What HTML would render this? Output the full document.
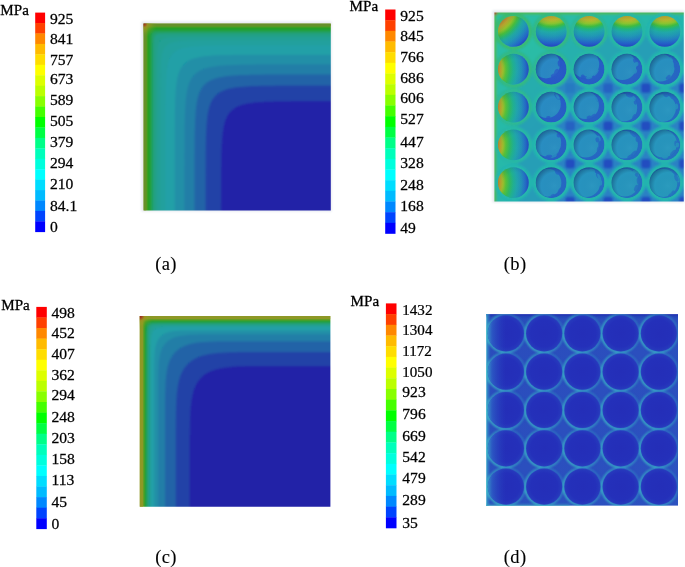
<!DOCTYPE html><html><head><meta charset="utf-8"><title>Stress contours</title>
<style>html,body{margin:0;padding:0;background:#fff;}body{width:685px;height:567px;overflow:hidden;}svg{display:block;font-family:"Liberation Serif","Times New Roman",serif;}text{fill:#000;stroke:#000;stroke-width:0.25px;}</style></head><body>
<svg width="685" height="567" viewBox="0 0 685 567">
<defs>
<filter id="blur1" x="-5%" y="-5%" width="110%" height="110%"><feGaussianBlur stdDeviation="0.85"/></filter>
<filter id="blur2" x="-5%" y="-5%" width="110%" height="110%"><feGaussianBlur stdDeviation="0.85"/></filter>
<clipPath id="clipA"><rect x="143.5" y="23.5" width="187.3" height="187.0"/></clipPath>
<clipPath id="clipC"><rect x="139.7" y="315.9" width="190.7" height="190.8"/></clipPath>
<radialGradient id="cornerA" cx="0.5" cy="0.5" r="0.5"><stop offset="0" stop-color="#a02020"/><stop offset="0.12" stop-color="#a04020"/><stop offset="0.3" stop-color="#a09020" stop-opacity="0.85"/><stop offset="0.6" stop-color="#90a020" stop-opacity="0.4"/><stop offset="1" stop-color="#60a020" stop-opacity="0"/></radialGradient>
<radialGradient id="cornerC" cx="0.5" cy="0.5" r="0.5"><stop offset="0" stop-color="#a02020"/><stop offset="0.15" stop-color="#a04020"/><stop offset="0.35" stop-color="#a09020" stop-opacity="0.85"/><stop offset="0.6" stop-color="#90a020" stop-opacity="0.4"/><stop offset="1" stop-color="#60a020" stop-opacity="0"/></radialGradient>
<clipPath id="cc44"><circle cx="664.86" cy="182.69" r="15.4"/></clipPath>
<clipPath id="cc34"><circle cx="626.98" cy="182.69" r="15.4"/></clipPath>
<clipPath id="cc24"><circle cx="589.10" cy="182.69" r="15.4"/></clipPath>
<clipPath id="cc14"><circle cx="551.22" cy="182.69" r="15.4"/></clipPath>
<clipPath id="cc04"><circle cx="513.34" cy="182.69" r="15.4"/></clipPath>
<clipPath id="cc43"><circle cx="664.86" cy="144.87" r="15.4"/></clipPath>
<clipPath id="cc33"><circle cx="626.98" cy="144.87" r="15.4"/></clipPath>
<clipPath id="cc23"><circle cx="589.10" cy="144.87" r="15.4"/></clipPath>
<clipPath id="cc13"><circle cx="551.22" cy="144.87" r="15.4"/></clipPath>
<clipPath id="cc03"><circle cx="513.34" cy="144.87" r="15.4"/></clipPath>
<clipPath id="cc42"><circle cx="664.86" cy="107.05" r="15.4"/></clipPath>
<clipPath id="cc32"><circle cx="626.98" cy="107.05" r="15.4"/></clipPath>
<clipPath id="cc22"><circle cx="589.10" cy="107.05" r="15.4"/></clipPath>
<clipPath id="cc12"><circle cx="551.22" cy="107.05" r="15.4"/></clipPath>
<clipPath id="cc02"><circle cx="513.34" cy="107.05" r="15.4"/></clipPath>
<clipPath id="cc41"><circle cx="664.86" cy="69.23" r="15.4"/></clipPath>
<clipPath id="cc31"><circle cx="626.98" cy="69.23" r="15.4"/></clipPath>
<clipPath id="cc21"><circle cx="589.10" cy="69.23" r="15.4"/></clipPath>
<clipPath id="cc11"><circle cx="551.22" cy="69.23" r="15.4"/></clipPath>
<clipPath id="cc01"><circle cx="513.34" cy="69.23" r="15.4"/></clipPath>
<clipPath id="cc40"><circle cx="664.86" cy="31.41" r="15.4"/></clipPath>
<clipPath id="cc30"><circle cx="626.98" cy="31.41" r="15.4"/></clipPath>
<clipPath id="cc20"><circle cx="589.10" cy="31.41" r="15.4"/></clipPath>
<clipPath id="cc10"><circle cx="551.22" cy="31.41" r="15.4"/></clipPath>
<clipPath id="cc00"><circle cx="513.34" cy="31.41" r="15.4"/></clipPath>
<clipPath id="clipB"><rect x="494.4" y="12.5" width="189.4" height="189.1"/></clipPath><filter id="blur3" x="-5%" y="-5%" width="110%" height="110%"><feGaussianBlur stdDeviation="1.3"/></filter><linearGradient id="bbg" x1="0" y1="0" x2="1" y2="1"><stop offset="0" stop-color="#2cc0a2"/><stop offset="0.45" stop-color="#26b8aa"/><stop offset="1" stop-color="#24a8b4"/></linearGradient><radialGradient id="btop" cx="0.5" cy="-0.6" r="1.6"><stop offset="0.375" stop-color="#c0a82c"/><stop offset="0.456" stop-color="#bcb82c"/><stop offset="0.531" stop-color="#88c430"/><stop offset="0.588" stop-color="#40bc40"/><stop offset="0.644" stop-color="#20b480"/><stop offset="0.706" stop-color="#20a8a8"/><stop offset="0.781" stop-color="#2098b4"/><stop offset="0.856" stop-color="#2280c0"/><stop offset="0.931" stop-color="#2460c8"/><stop offset="1.000" stop-color="#2444c0"/></radialGradient><radialGradient id="bleft" cx="-0.6" cy="0.5" r="1.6"><stop offset="0.375" stop-color="#c08c2c"/><stop offset="0.425" stop-color="#c0a42c"/><stop offset="0.475" stop-color="#a0bc2c"/><stop offset="0.537" stop-color="#58c038"/><stop offset="0.613" stop-color="#30b860"/><stop offset="0.688" stop-color="#20b090"/><stop offset="0.762" stop-color="#20a4ac"/><stop offset="0.850" stop-color="#2290b8"/><stop offset="0.925" stop-color="#2470c4"/><stop offset="1.000" stop-color="#2448c0"/></radialGradient><radialGradient id="bdiag" cx="-0.3" cy="-0.3" r="1.75"><stop offset="0.360" stop-color="#c08c2c"/><stop offset="0.428" stop-color="#c0a82c"/><stop offset="0.502" stop-color="#90c02c"/><stop offset="0.565" stop-color="#48bc3c"/><stop offset="0.622" stop-color="#28b470"/><stop offset="0.679" stop-color="#20a8a0"/><stop offset="0.748" stop-color="#2098b4"/><stop offset="0.816" stop-color="#2280c0"/><stop offset="0.879" stop-color="#2464c8"/><stop offset="0.930" stop-color="#2448c0"/></radialGradient><radialGradient id="bshade" cx="0.6" cy="0.6" r="0.63"><stop offset="0" stop-color="#60c0d0" stop-opacity="0.08"/><stop offset="0.68" stop-color="#104060" stop-opacity="0"/><stop offset="1" stop-color="#0c2c58" stop-opacity="0.42"/></radialGradient>
<clipPath id="clipD"><rect x="486.8" y="314.2" width="191.2" height="191.6"/></clipPath><radialGradient id="dcirc" cx="0.5" cy="0.5" r="0.5"><stop offset="0" stop-color="#242eb8"/><stop offset="0.75" stop-color="#2430ba"/><stop offset="0.93" stop-color="#2638bc"/><stop offset="1" stop-color="#2844c0"/></radialGradient><linearGradient id="dleft" x1="0" y1="0" x2="1" y2="0"><stop offset="0" stop-color="#38a0c8" stop-opacity="0.85"/><stop offset="0.12" stop-color="#3070c8" stop-opacity="0.6"/><stop offset="0.5" stop-color="#2848c0" stop-opacity="0"/></linearGradient><linearGradient id="dring" x1="0" y1="0.8" x2="1" y2="0.2"><stop offset="0" stop-color="#40d0c8" stop-opacity="1"/><stop offset="0.5" stop-color="#38b8c8" stop-opacity="0.8"/><stop offset="1" stop-color="#3090c8" stop-opacity="0.5"/></linearGradient><linearGradient id="dbg" x1="0" y1="0" x2="1" y2="1"><stop offset="0" stop-color="#2a4cbc"/><stop offset="1" stop-color="#2c52c0"/></linearGradient>
</defs>
<rect width="685" height="567" fill="#fff"/>
<rect x="35.20" y="12.60" width="9.90" height="10.74" fill="#ff0000"/>
<rect x="35.20" y="23.04" width="9.90" height="10.74" fill="#ff4000"/>
<rect x="35.20" y="33.48" width="9.90" height="10.74" fill="#ff8800"/>
<rect x="35.20" y="43.91" width="9.90" height="10.74" fill="#ffbb00"/>
<rect x="35.20" y="54.35" width="9.90" height="10.74" fill="#ffdd00"/>
<rect x="35.20" y="64.79" width="9.90" height="10.74" fill="#ffff00"/>
<rect x="35.20" y="75.23" width="9.90" height="10.74" fill="#ddff00"/>
<rect x="35.20" y="85.67" width="9.90" height="10.74" fill="#bbff00"/>
<rect x="35.20" y="96.10" width="9.90" height="10.74" fill="#88ff00"/>
<rect x="35.20" y="106.54" width="9.90" height="10.74" fill="#44ff00"/>
<rect x="35.20" y="116.98" width="9.90" height="10.74" fill="#00ff00"/>
<rect x="35.20" y="127.42" width="9.90" height="10.74" fill="#00ff44"/>
<rect x="35.20" y="137.86" width="9.90" height="10.74" fill="#00ff88"/>
<rect x="35.20" y="148.30" width="9.90" height="10.74" fill="#00ffbb"/>
<rect x="35.20" y="158.73" width="9.90" height="10.74" fill="#00ffdd"/>
<rect x="35.20" y="169.17" width="9.90" height="10.74" fill="#00ffff"/>
<rect x="35.20" y="179.61" width="9.90" height="10.74" fill="#00ddff"/>
<rect x="35.20" y="190.05" width="9.90" height="10.74" fill="#00bbff"/>
<rect x="35.20" y="200.49" width="9.90" height="10.74" fill="#0088ff"/>
<rect x="35.20" y="210.92" width="9.90" height="10.74" fill="#0044ff"/>
<rect x="35.20" y="221.36" width="9.90" height="10.74" fill="#0000ff"/>
<text transform="translate(50.00,24.17) scale(1.04,1)" font-size="15">925</text>
<text transform="translate(50.00,43.67) scale(1.04,1)" font-size="15">841</text>
<text transform="translate(50.00,64.57) scale(1.04,1)" font-size="15">757</text>
<text transform="translate(50.00,84.37) scale(1.04,1)" font-size="15">673</text>
<text transform="translate(50.00,105.07) scale(1.04,1)" font-size="15">589</text>
<text transform="translate(50.00,125.77) scale(1.04,1)" font-size="15">505</text>
<text transform="translate(50.00,147.47) scale(1.04,1)" font-size="15">379</text>
<text transform="translate(50.00,168.37) scale(1.04,1)" font-size="15">294</text>
<text transform="translate(50.00,189.07) scale(1.04,1)" font-size="15">210</text>
<text transform="translate(50.00,210.67) scale(1.04,1)" font-size="15">84.1</text>
<text transform="translate(50.00,231.97) scale(1.04,1)" font-size="15">0</text>
<text transform="translate(0.30,14.60) scale(1.05,1)" font-size="14.4">MPa</text>
<rect x="385.20" y="9.50" width="10.30" height="10.97" fill="#ff0000"/>
<rect x="385.20" y="20.17" width="10.30" height="10.97" fill="#ff4000"/>
<rect x="385.20" y="30.83" width="10.30" height="10.97" fill="#ff8800"/>
<rect x="385.20" y="41.50" width="10.30" height="10.97" fill="#ffbb00"/>
<rect x="385.20" y="52.17" width="10.30" height="10.97" fill="#ffdd00"/>
<rect x="385.20" y="62.83" width="10.30" height="10.97" fill="#ffff00"/>
<rect x="385.20" y="73.50" width="10.30" height="10.97" fill="#ddff00"/>
<rect x="385.20" y="84.17" width="10.30" height="10.97" fill="#bbff00"/>
<rect x="385.20" y="94.83" width="10.30" height="10.97" fill="#88ff00"/>
<rect x="385.20" y="105.50" width="10.30" height="10.97" fill="#44ff00"/>
<rect x="385.20" y="116.17" width="10.30" height="10.97" fill="#00ff00"/>
<rect x="385.20" y="126.83" width="10.30" height="10.97" fill="#00ff44"/>
<rect x="385.20" y="137.50" width="10.30" height="10.97" fill="#00ff88"/>
<rect x="385.20" y="148.17" width="10.30" height="10.97" fill="#00ffbb"/>
<rect x="385.20" y="158.83" width="10.30" height="10.97" fill="#00ffdd"/>
<rect x="385.20" y="169.50" width="10.30" height="10.97" fill="#00ffff"/>
<rect x="385.20" y="180.17" width="10.30" height="10.97" fill="#00ddff"/>
<rect x="385.20" y="190.83" width="10.30" height="10.97" fill="#00bbff"/>
<rect x="385.20" y="201.50" width="10.30" height="10.97" fill="#0088ff"/>
<rect x="385.20" y="212.17" width="10.30" height="10.97" fill="#0044ff"/>
<rect x="385.20" y="222.83" width="10.30" height="10.97" fill="#0000ff"/>
<text transform="translate(400.30,20.97) scale(1.04,1)" font-size="15">925</text>
<text transform="translate(400.30,41.17) scale(1.04,1)" font-size="15">845</text>
<text transform="translate(400.30,62.17) scale(1.04,1)" font-size="15">766</text>
<text transform="translate(400.30,82.67) scale(1.04,1)" font-size="15">686</text>
<text transform="translate(400.30,103.17) scale(1.04,1)" font-size="15">606</text>
<text transform="translate(400.30,124.37) scale(1.04,1)" font-size="15">527</text>
<text transform="translate(400.30,147.17) scale(1.04,1)" font-size="15">447</text>
<text transform="translate(400.30,168.37) scale(1.04,1)" font-size="15">328</text>
<text transform="translate(400.30,189.57) scale(1.04,1)" font-size="15">248</text>
<text transform="translate(400.30,211.37) scale(1.04,1)" font-size="15">168</text>
<text transform="translate(400.30,233.17) scale(1.04,1)" font-size="15">49</text>
<text transform="translate(349.60,11.40) scale(1.05,1)" font-size="14.4">MPa</text>
<rect x="36.30" y="306.90" width="10.50" height="10.87" fill="#ff0000"/>
<rect x="36.30" y="317.47" width="10.50" height="10.87" fill="#ff4000"/>
<rect x="36.30" y="328.03" width="10.50" height="10.87" fill="#ff8800"/>
<rect x="36.30" y="338.60" width="10.50" height="10.87" fill="#ffbb00"/>
<rect x="36.30" y="349.17" width="10.50" height="10.87" fill="#ffdd00"/>
<rect x="36.30" y="359.73" width="10.50" height="10.87" fill="#ffff00"/>
<rect x="36.30" y="370.30" width="10.50" height="10.87" fill="#ddff00"/>
<rect x="36.30" y="380.87" width="10.50" height="10.87" fill="#bbff00"/>
<rect x="36.30" y="391.43" width="10.50" height="10.87" fill="#88ff00"/>
<rect x="36.30" y="402.00" width="10.50" height="10.87" fill="#44ff00"/>
<rect x="36.30" y="412.57" width="10.50" height="10.87" fill="#00ff00"/>
<rect x="36.30" y="423.13" width="10.50" height="10.87" fill="#00ff44"/>
<rect x="36.30" y="433.70" width="10.50" height="10.87" fill="#00ff88"/>
<rect x="36.30" y="444.27" width="10.50" height="10.87" fill="#00ffbb"/>
<rect x="36.30" y="454.83" width="10.50" height="10.87" fill="#00ffdd"/>
<rect x="36.30" y="465.40" width="10.50" height="10.87" fill="#00ffff"/>
<rect x="36.30" y="475.97" width="10.50" height="10.87" fill="#00ddff"/>
<rect x="36.30" y="486.53" width="10.50" height="10.87" fill="#00bbff"/>
<rect x="36.30" y="497.10" width="10.50" height="10.87" fill="#0088ff"/>
<rect x="36.30" y="507.67" width="10.50" height="10.87" fill="#0044ff"/>
<rect x="36.30" y="518.23" width="10.50" height="10.87" fill="#0000ff"/>
<text transform="translate(51.50,318.27) scale(1.04,1)" font-size="15">498</text>
<text transform="translate(51.50,338.47) scale(1.04,1)" font-size="15">452</text>
<text transform="translate(51.50,358.97) scale(1.04,1)" font-size="15">407</text>
<text transform="translate(51.50,379.67) scale(1.04,1)" font-size="15">362</text>
<text transform="translate(51.50,400.47) scale(1.04,1)" font-size="15">294</text>
<text transform="translate(51.50,421.57) scale(1.04,1)" font-size="15">248</text>
<text transform="translate(51.50,443.27) scale(1.04,1)" font-size="15">203</text>
<text transform="translate(51.50,463.97) scale(1.04,1)" font-size="15">158</text>
<text transform="translate(51.50,484.77) scale(1.04,1)" font-size="15">113</text>
<text transform="translate(51.50,506.97) scale(1.04,1)" font-size="15">45</text>
<text transform="translate(51.50,528.57) scale(1.04,1)" font-size="15">0</text>
<text transform="translate(1.20,309.70) scale(1.05,1)" font-size="14.4">MPa</text>
<rect x="385.90" y="303.40" width="10.60" height="11.00" fill="#ff0000"/>
<rect x="385.90" y="314.10" width="10.60" height="11.00" fill="#ff4000"/>
<rect x="385.90" y="324.79" width="10.60" height="11.00" fill="#ff8800"/>
<rect x="385.90" y="335.49" width="10.60" height="11.00" fill="#ffbb00"/>
<rect x="385.90" y="346.18" width="10.60" height="11.00" fill="#ffdd00"/>
<rect x="385.90" y="356.88" width="10.60" height="11.00" fill="#ffff00"/>
<rect x="385.90" y="367.57" width="10.60" height="11.00" fill="#ddff00"/>
<rect x="385.90" y="378.27" width="10.60" height="11.00" fill="#bbff00"/>
<rect x="385.90" y="388.96" width="10.60" height="11.00" fill="#88ff00"/>
<rect x="385.90" y="399.66" width="10.60" height="11.00" fill="#44ff00"/>
<rect x="385.90" y="410.35" width="10.60" height="11.00" fill="#00ff00"/>
<rect x="385.90" y="421.05" width="10.60" height="11.00" fill="#00ff44"/>
<rect x="385.90" y="431.74" width="10.60" height="11.00" fill="#00ff88"/>
<rect x="385.90" y="442.44" width="10.60" height="11.00" fill="#00ffbb"/>
<rect x="385.90" y="453.13" width="10.60" height="11.00" fill="#00ffdd"/>
<rect x="385.90" y="463.83" width="10.60" height="11.00" fill="#00ffff"/>
<rect x="385.90" y="474.52" width="10.60" height="11.00" fill="#00ddff"/>
<rect x="385.90" y="485.22" width="10.60" height="11.00" fill="#00bbff"/>
<rect x="385.90" y="495.91" width="10.60" height="11.00" fill="#0088ff"/>
<rect x="385.90" y="506.61" width="10.60" height="11.00" fill="#0044ff"/>
<rect x="385.90" y="517.30" width="10.60" height="11.00" fill="#0000ff"/>
<text transform="translate(402.30,314.77) scale(1.005,1)" font-size="15">1432</text>
<text transform="translate(402.30,335.17) scale(1.005,1)" font-size="15">1304</text>
<text transform="translate(402.30,355.97) scale(1.005,1)" font-size="15">1172</text>
<text transform="translate(402.30,376.77) scale(1.005,1)" font-size="15">1050</text>
<text transform="translate(402.30,397.47) scale(1.04,1)" font-size="15">923</text>
<text transform="translate(402.30,419.07) scale(1.04,1)" font-size="15">796</text>
<text transform="translate(402.30,440.87) scale(1.04,1)" font-size="15">669</text>
<text transform="translate(402.30,462.27) scale(1.04,1)" font-size="15">542</text>
<text transform="translate(402.30,483.27) scale(1.04,1)" font-size="15">479</text>
<text transform="translate(402.30,505.07) scale(1.04,1)" font-size="15">289</text>
<text transform="translate(402.30,527.57) scale(1.04,1)" font-size="15">35</text>
<text transform="translate(350.60,305.90) scale(1.05,1)" font-size="14.4">MPa</text>
<rect x="141.3" y="21.5" width="190.3" height="190.0" fill="#e6e9ef" filter="url(#blur1)"/>
<g clip-path="url(#clipA)"><g filter="url(#blur1)">
<rect x="139.5" y="19.5" width="195.3" height="195.0" fill="#7c9426"/>
<path d="M143.5,23.5h191.3v191.0h-191.3z" fill="#7c9426"/>
<path d="M334.80,26.10 L159.92,26.10 L159.57,26.10 L159.22,26.10 L158.88,26.10 L158.53,26.10 L158.19,26.10 L157.84,26.10 L157.50,26.10 L157.15,26.10 L156.81,26.10 L156.46,26.10 L156.12,26.10 L155.77,26.10 L155.43,26.10 L155.08,26.10 L154.73,26.10 L154.39,26.10 L154.04,26.10 L153.70,26.10 L153.35,26.10 L153.01,26.10 L152.66,26.10 L152.32,26.10 L151.97,26.10 L151.63,26.10 L151.28,26.10 L150.94,26.10 L150.59,26.10 L150.24,26.10 L149.90,26.10 L149.55,26.10 L149.21,26.10 L148.87,26.10 L148.52,26.10 L148.18,26.11 L147.84,26.12 L147.51,26.13 L147.20,26.16 L146.90,26.21 L146.65,26.30 L146.45,26.45 L146.30,26.65 L146.21,26.90 L146.16,27.20 L146.13,27.51 L146.12,27.84 L146.11,28.18 L146.10,28.52 L146.10,28.87 L146.10,29.21 L146.10,29.55 L146.10,29.90 L146.10,30.24 L146.10,30.59 L146.10,30.94 L146.10,31.28 L146.10,31.63 L146.10,31.97 L146.10,32.32 L146.10,32.66 L146.10,33.01 L146.10,33.35 L146.10,33.70 L146.10,34.04 L146.10,34.39 L146.10,34.73 L146.10,35.08 L146.10,35.43 L146.10,35.77 L146.10,36.12 L146.10,36.46 L146.10,36.81 L146.10,37.15 L146.10,37.50 L146.10,37.84 L146.10,38.19 L146.10,38.53 L146.10,38.88 L146.10,39.22 L146.10,39.57 L146.10,39.92 L146.10,214.50 L334.8,214.5z" fill="#44a020"/>
<path d="M334.80,26.90 L169.00,26.90 L168.45,26.90 L167.90,26.90 L167.35,26.90 L166.79,26.90 L166.24,26.90 L165.69,26.90 L165.14,26.90 L164.58,26.90 L164.03,26.90 L163.48,26.90 L162.93,26.90 L162.37,26.90 L161.82,26.90 L161.27,26.90 L160.72,26.90 L160.16,26.90 L159.61,26.90 L159.06,26.90 L158.51,26.90 L157.95,26.90 L157.40,26.90 L156.85,26.90 L156.29,26.90 L155.74,26.90 L155.19,26.90 L154.64,26.90 L154.08,26.90 L153.53,26.90 L152.98,26.90 L152.43,26.90 L151.88,26.90 L151.32,26.90 L150.77,26.91 L150.23,26.91 L149.69,26.92 L149.16,26.95 L148.65,26.99 L148.18,27.08 L147.78,27.23 L147.45,27.45 L147.23,27.78 L147.08,28.18 L146.99,28.65 L146.95,29.16 L146.92,29.69 L146.91,30.23 L146.91,30.77 L146.90,31.32 L146.90,31.88 L146.90,32.43 L146.90,32.98 L146.90,33.53 L146.90,34.08 L146.90,34.64 L146.90,35.19 L146.90,35.74 L146.90,36.29 L146.90,36.85 L146.90,37.40 L146.90,37.95 L146.90,38.51 L146.90,39.06 L146.90,39.61 L146.90,40.16 L146.90,40.72 L146.90,41.27 L146.90,41.82 L146.90,42.37 L146.90,42.93 L146.90,43.48 L146.90,44.03 L146.90,44.58 L146.90,45.14 L146.90,45.69 L146.90,46.24 L146.90,46.79 L146.90,47.35 L146.90,47.90 L146.90,48.45 L146.90,49.00 L146.90,214.50 L334.8,214.5z" fill="#20a020"/>
<path d="M334.80,30.00 L183.16,30.00 L182.33,30.00 L181.50,30.00 L180.67,30.00 L179.84,30.00 L179.01,30.00 L178.18,30.00 L177.35,30.00 L176.53,30.00 L175.70,30.00 L174.87,30.00 L174.04,30.00 L173.21,30.00 L172.38,30.00 L171.55,30.00 L170.72,30.00 L169.89,30.00 L169.07,30.00 L168.24,30.00 L167.41,30.00 L166.58,30.00 L165.75,30.00 L164.92,30.00 L164.09,30.00 L163.26,30.00 L162.43,30.00 L161.61,30.00 L160.78,30.00 L159.95,30.00 L159.12,30.00 L158.29,30.00 L157.46,30.00 L156.64,30.00 L155.81,30.01 L154.99,30.02 L154.18,30.04 L153.39,30.07 L152.63,30.14 L151.93,30.27 L151.32,30.49 L150.83,30.83 L150.49,31.32 L150.27,31.93 L150.14,32.63 L150.07,33.39 L150.04,34.18 L150.02,34.99 L150.01,35.81 L150.00,36.64 L150.00,37.46 L150.00,38.29 L150.00,39.12 L150.00,39.95 L150.00,40.78 L150.00,41.61 L150.00,42.43 L150.00,43.26 L150.00,44.09 L150.00,44.92 L150.00,45.75 L150.00,46.58 L150.00,47.41 L150.00,48.24 L150.00,49.07 L150.00,49.89 L150.00,50.72 L150.00,51.55 L150.00,52.38 L150.00,53.21 L150.00,54.04 L150.00,54.87 L150.00,55.70 L150.00,56.53 L150.00,57.35 L150.00,58.18 L150.00,59.01 L150.00,59.84 L150.00,60.67 L150.00,61.50 L150.00,62.33 L150.00,63.16 L150.00,214.50 L334.8,214.5z" fill="#20a044"/>
<path d="M334.80,31.80 L201.54,31.80 L200.29,31.80 L199.05,31.80 L197.81,31.80 L196.56,31.80 L195.32,31.80 L194.08,31.80 L192.83,31.80 L191.59,31.80 L190.35,31.80 L189.10,31.80 L187.86,31.80 L186.62,31.80 L185.37,31.80 L184.13,31.80 L182.88,31.80 L181.64,31.80 L180.40,31.80 L179.15,31.80 L177.91,31.80 L176.67,31.80 L175.42,31.80 L174.18,31.80 L172.94,31.80 L171.69,31.80 L170.45,31.80 L169.21,31.80 L167.96,31.80 L166.72,31.80 L165.48,31.80 L164.24,31.80 L162.99,31.80 L161.75,31.81 L160.52,31.81 L159.29,31.83 L158.07,31.86 L156.88,31.91 L155.74,32.01 L154.69,32.20 L153.77,32.53 L153.05,33.05 L152.53,33.77 L152.20,34.69 L152.01,35.74 L151.91,36.88 L151.86,38.07 L151.83,39.29 L151.81,40.52 L151.81,41.75 L151.80,42.99 L151.80,44.24 L151.80,45.48 L151.80,46.72 L151.80,47.96 L151.80,49.21 L151.80,50.45 L151.80,51.69 L151.80,52.94 L151.80,54.18 L151.80,55.42 L151.80,56.67 L151.80,57.91 L151.80,59.15 L151.80,60.40 L151.80,61.64 L151.80,62.88 L151.80,64.13 L151.80,65.37 L151.80,66.62 L151.80,67.86 L151.80,69.10 L151.80,70.35 L151.80,71.59 L151.80,72.83 L151.80,74.08 L151.80,75.32 L151.80,76.56 L151.80,77.81 L151.80,79.05 L151.80,80.29 L151.80,81.54 L151.80,214.50 L334.8,214.5z" fill="#20a06c"/>
<path d="M334.80,33.80 L222.88,33.80 L221.15,33.80 L219.42,33.80 L217.70,33.80 L215.97,33.80 L214.24,33.80 L212.52,33.80 L210.79,33.80 L209.06,33.80 L207.34,33.80 L205.61,33.80 L203.88,33.80 L202.15,33.80 L200.43,33.80 L198.70,33.80 L196.97,33.80 L195.25,33.80 L193.52,33.80 L191.79,33.80 L190.07,33.80 L188.34,33.80 L186.61,33.80 L184.88,33.80 L183.16,33.80 L181.43,33.80 L179.70,33.80 L177.98,33.80 L176.25,33.80 L174.52,33.80 L172.80,33.80 L171.07,33.80 L169.35,33.80 L167.63,33.81 L165.91,33.82 L164.20,33.84 L162.51,33.88 L160.86,33.95 L159.28,34.10 L157.81,34.36 L156.54,34.82 L155.53,35.53 L154.82,36.54 L154.36,37.81 L154.10,39.28 L153.95,40.86 L153.88,42.51 L153.84,44.20 L153.82,45.91 L153.81,47.63 L153.80,49.35 L153.80,51.07 L153.80,52.80 L153.80,54.52 L153.80,56.25 L153.80,57.98 L153.80,59.70 L153.80,61.43 L153.80,63.16 L153.80,64.88 L153.80,66.61 L153.80,68.34 L153.80,70.07 L153.80,71.79 L153.80,73.52 L153.80,75.25 L153.80,76.97 L153.80,78.70 L153.80,80.43 L153.80,82.15 L153.80,83.88 L153.80,85.61 L153.80,87.34 L153.80,89.06 L153.80,90.79 L153.80,92.52 L153.80,94.24 L153.80,95.97 L153.80,97.70 L153.80,99.42 L153.80,101.15 L153.80,102.88 L153.80,214.50 L334.8,214.5z" fill="#20a088"/>
<path d="M334.80,37.00 L295.16,37.00 L291.70,37.00 L288.25,37.00 L284.79,37.00 L281.34,37.00 L277.89,37.00 L274.43,37.00 L270.98,37.00 L267.52,37.00 L264.07,37.00 L260.62,37.00 L257.16,37.00 L253.71,37.00 L250.25,37.00 L246.80,37.00 L243.35,37.00 L239.89,37.00 L236.44,37.00 L232.99,37.00 L229.53,37.00 L226.08,37.00 L222.62,37.00 L219.17,37.00 L215.72,37.00 L212.26,37.00 L208.81,37.00 L205.35,37.00 L201.90,37.00 L198.45,37.00 L195.00,37.00 L191.54,37.00 L188.09,37.01 L184.65,37.02 L181.22,37.04 L177.80,37.08 L174.43,37.16 L171.12,37.31 L167.95,37.59 L165.03,38.12 L162.49,39.03 L160.47,40.47 L159.03,42.49 L158.12,45.03 L157.59,47.95 L157.31,51.12 L157.16,54.43 L157.08,57.80 L157.04,61.22 L157.02,64.65 L157.01,68.09 L157.00,71.54 L157.00,75.00 L157.00,78.45 L157.00,81.90 L157.00,85.35 L157.00,88.81 L157.00,92.26 L157.00,95.72 L157.00,99.17 L157.00,102.62 L157.00,106.08 L157.00,109.53 L157.00,112.99 L157.00,116.44 L157.00,119.89 L157.00,123.35 L157.00,126.80 L157.00,130.25 L157.00,133.71 L157.00,137.16 L157.00,140.62 L157.00,144.07 L157.00,147.52 L157.00,150.98 L157.00,154.43 L157.00,157.89 L157.00,161.34 L157.00,164.79 L157.00,168.25 L157.00,171.70 L157.00,175.15 L157.00,214.50 L334.8,214.5z" fill="#20a094"/>
<path d="M334.80,40.50 L334.80,40.50 L330.45,40.50 L326.09,40.50 L321.74,40.50 L317.39,40.50 L313.03,40.50 L308.68,40.50 L304.32,40.50 L299.97,40.50 L295.62,40.50 L291.26,40.50 L286.91,40.50 L282.56,40.50 L278.20,40.50 L273.85,40.50 L269.49,40.50 L265.14,40.50 L260.79,40.50 L256.43,40.50 L252.08,40.50 L247.73,40.50 L243.37,40.50 L239.02,40.50 L234.66,40.50 L230.31,40.50 L225.96,40.50 L221.61,40.50 L217.26,40.51 L212.91,40.51 L208.56,40.52 L204.22,40.53 L199.89,40.56 L195.58,40.60 L191.30,40.67 L187.07,40.79 L182.92,41.00 L178.91,41.34 L175.11,41.90 L171.64,42.78 L168.61,44.11 L166.12,45.97 L164.22,48.42 L162.86,51.42 L161.95,54.86 L161.37,58.64 L161.02,62.64 L160.81,66.78 L160.68,71.00 L160.60,75.28 L160.56,79.59 L160.54,83.92 L160.52,88.26 L160.51,92.61 L160.51,96.96 L160.50,101.31 L160.50,105.66 L160.50,110.01 L160.50,114.36 L160.50,118.72 L160.50,123.07 L160.50,127.43 L160.50,131.78 L160.50,136.13 L160.50,140.49 L160.50,144.84 L160.50,149.19 L160.50,153.55 L160.50,157.90 L160.50,162.26 L160.50,166.61 L160.50,170.96 L160.50,175.32 L160.50,179.67 L160.50,184.02 L160.50,188.38 L160.50,192.73 L160.50,197.08 L160.50,201.44 L160.50,205.79 L160.50,210.15 L160.50,214.50 L160.50,214.50 L334.8,214.5z" fill="#20a09e"/>
<path d="M334.80,45.50 L334.80,45.50 L330.57,45.50 L326.34,45.50 L322.11,45.50 L317.89,45.50 L313.66,45.50 L309.43,45.50 L305.20,45.50 L300.97,45.50 L296.74,45.50 L292.51,45.50 L288.28,45.50 L284.06,45.50 L279.83,45.50 L275.60,45.50 L271.37,45.50 L267.14,45.50 L262.91,45.50 L258.68,45.50 L254.46,45.50 L250.23,45.50 L246.00,45.51 L241.78,45.51 L237.55,45.52 L233.33,45.52 L229.12,45.53 L224.90,45.55 L220.70,45.57 L216.50,45.61 L212.32,45.66 L208.17,45.73 L204.04,45.84 L199.97,45.99 L195.96,46.21 L192.05,46.53 L188.28,46.98 L184.68,47.61 L181.32,48.48 L178.25,49.64 L175.53,51.15 L173.20,53.05 L171.27,55.35 L169.74,58.04 L168.55,61.09 L167.67,64.43 L167.02,68.01 L166.56,71.78 L166.23,75.68 L166.00,79.68 L165.85,83.75 L165.74,87.87 L165.66,92.03 L165.61,96.21 L165.58,100.40 L165.55,104.60 L165.53,108.82 L165.52,113.03 L165.52,117.25 L165.51,121.48 L165.51,125.70 L165.51,129.93 L165.50,134.16 L165.50,138.38 L165.50,142.61 L165.50,146.84 L165.50,151.07 L165.50,155.30 L165.50,159.53 L165.50,163.76 L165.50,167.98 L165.50,172.21 L165.50,176.44 L165.50,180.67 L165.50,184.90 L165.50,189.13 L165.50,193.36 L165.50,197.59 L165.50,201.81 L165.50,206.04 L165.50,210.27 L165.50,214.50 L165.50,214.50 L334.8,214.5z" fill="#20a0a7"/>
<path d="M334.80,54.70 L334.80,54.70 L330.80,54.70 L326.80,54.70 L322.80,54.70 L318.81,54.70 L314.81,54.70 L310.81,54.70 L306.81,54.70 L302.81,54.70 L298.81,54.70 L294.81,54.70 L290.82,54.70 L286.82,54.70 L282.82,54.70 L278.82,54.71 L274.83,54.71 L270.83,54.71 L266.84,54.71 L262.84,54.72 L258.85,54.73 L254.86,54.74 L250.87,54.75 L246.89,54.76 L242.92,54.79 L238.95,54.82 L234.99,54.86 L231.04,54.91 L227.11,54.98 L223.21,55.08 L219.34,55.20 L215.51,55.37 L211.74,55.60 L208.03,55.89 L204.42,56.28 L200.93,56.79 L197.58,57.44 L194.41,58.27 L191.45,59.31 L188.74,60.59 L186.29,62.14 L184.13,63.98 L182.27,66.12 L180.70,68.54 L179.39,71.24 L178.34,74.18 L177.49,77.34 L176.83,80.67 L176.32,84.16 L175.92,87.76 L175.62,91.46 L175.39,95.23 L175.22,99.05 L175.08,102.92 L174.99,106.82 L174.91,110.75 L174.86,114.69 L174.82,118.65 L174.79,122.62 L174.77,126.59 L174.75,130.58 L174.74,134.56 L174.73,138.55 L174.72,142.54 L174.72,146.54 L174.71,150.53 L174.71,154.53 L174.71,158.52 L174.70,162.52 L174.70,166.52 L174.70,170.52 L174.70,174.51 L174.70,178.51 L174.70,182.51 L174.70,186.51 L174.70,190.51 L174.70,194.51 L174.70,198.51 L174.70,202.50 L174.70,206.50 L174.70,210.50 L174.70,214.50 L174.70,214.50 L334.8,214.5z" fill="#208fa7"/>
<path d="M334.80,64.50 L334.80,64.50 L331.05,64.50 L327.29,64.50 L323.54,64.50 L319.79,64.50 L316.03,64.50 L312.28,64.50 L308.53,64.50 L304.77,64.50 L301.02,64.50 L297.27,64.51 L293.52,64.51 L289.76,64.51 L286.01,64.51 L282.26,64.52 L278.52,64.52 L274.77,64.53 L271.02,64.54 L267.28,64.55 L263.54,64.56 L259.81,64.58 L256.08,64.60 L252.35,64.64 L248.64,64.67 L244.94,64.73 L241.25,64.79 L237.58,64.88 L233.94,64.99 L230.32,65.13 L226.75,65.31 L223.23,65.54 L219.77,65.83 L216.38,66.20 L213.10,66.67 L209.93,67.26 L206.90,67.98 L204.03,68.87 L201.35,69.94 L198.88,71.22 L196.63,72.73 L194.63,74.48 L192.86,76.46 L191.33,78.69 L190.03,81.15 L188.95,83.81 L188.04,86.66 L187.31,89.68 L186.71,92.84 L186.24,96.12 L185.86,99.49 L185.56,102.95 L185.33,106.47 L185.14,110.04 L185.00,113.65 L184.89,117.29 L184.80,120.95 L184.73,124.64 L184.68,128.34 L184.64,132.06 L184.61,135.78 L184.58,139.51 L184.56,143.24 L184.55,146.98 L184.54,150.72 L184.53,154.47 L184.52,158.22 L184.52,161.96 L184.51,165.71 L184.51,169.47 L184.51,173.22 L184.51,176.97 L184.50,180.72 L184.50,184.47 L184.50,188.23 L184.50,191.98 L184.50,195.73 L184.50,199.49 L184.50,203.24 L184.50,206.99 L184.50,210.75 L184.50,214.50 L184.50,214.50 L334.8,214.5z" fill="#207ea7"/>
<path d="M334.80,74.50 L334.80,74.50 L331.30,74.50 L327.79,74.50 L324.29,74.50 L320.79,74.50 L317.28,74.50 L313.78,74.50 L310.28,74.50 L306.78,74.51 L303.27,74.51 L299.77,74.51 L296.27,74.51 L292.77,74.52 L289.27,74.52 L285.77,74.53 L282.28,74.53 L278.78,74.54 L275.29,74.56 L271.80,74.57 L268.32,74.59 L264.84,74.61 L261.37,74.64 L257.90,74.68 L254.45,74.73 L251.01,74.80 L247.58,74.88 L244.18,74.98 L240.81,75.11 L237.46,75.27 L234.16,75.47 L230.91,75.73 L227.73,76.05 L224.62,76.44 L221.60,76.93 L218.70,77.53 L215.92,78.26 L213.30,79.13 L210.84,80.18 L208.57,81.41 L206.49,82.84 L204.63,84.48 L202.97,86.32 L201.52,88.38 L200.28,90.64 L199.22,93.08 L198.32,95.69 L197.58,98.46 L196.98,101.35 L196.48,104.36 L196.08,107.46 L195.75,110.64 L195.49,113.88 L195.28,117.18 L195.12,120.52 L194.99,123.89 L194.89,127.29 L194.80,130.71 L194.74,134.15 L194.69,137.61 L194.65,141.07 L194.62,144.54 L194.59,148.02 L194.57,151.50 L194.56,154.99 L194.54,158.48 L194.53,161.98 L194.53,165.47 L194.52,168.97 L194.52,172.47 L194.51,175.97 L194.51,179.47 L194.51,182.97 L194.51,186.48 L194.51,189.98 L194.50,193.48 L194.50,196.98 L194.50,200.49 L194.50,203.99 L194.50,207.49 L194.50,211.00 L194.50,214.50 L194.50,214.50 L334.8,214.5z" fill="#2064a7"/>
<path d="M334.80,85.50 L334.80,85.50 L331.57,85.50 L328.34,85.50 L325.12,85.50 L321.89,85.50 L318.66,85.51 L315.43,85.51 L312.21,85.51 L308.98,85.51 L305.75,85.51 L302.53,85.52 L299.30,85.52 L296.08,85.53 L292.86,85.54 L289.64,85.54 L286.42,85.55 L283.21,85.57 L280.00,85.59 L276.79,85.61 L273.59,85.63 L270.39,85.67 L267.20,85.71 L264.03,85.76 L260.86,85.82 L257.71,85.90 L254.58,86.00 L251.47,86.12 L248.40,86.27 L245.35,86.46 L242.35,86.69 L239.41,86.97 L236.52,87.32 L233.71,87.74 L230.99,88.24 L228.38,88.85 L225.87,89.58 L223.51,90.44 L221.29,91.45 L219.23,92.62 L217.34,93.96 L215.63,95.48 L214.09,97.17 L212.74,99.04 L211.55,101.09 L210.53,103.29 L209.66,105.65 L208.92,108.14 L208.30,110.75 L207.78,113.46 L207.35,116.26 L207.00,119.14 L206.71,122.08 L206.48,125.07 L206.29,128.11 L206.13,131.19 L206.01,134.29 L205.91,137.42 L205.83,140.57 L205.76,143.73 L205.71,146.91 L205.67,150.09 L205.64,153.29 L205.61,156.49 L205.59,159.70 L205.57,162.91 L205.56,166.12 L205.54,169.34 L205.54,172.56 L205.53,175.78 L205.52,179.01 L205.52,182.23 L205.51,185.45 L205.51,188.68 L205.51,191.91 L205.51,195.13 L205.51,198.36 L205.50,201.59 L205.50,204.82 L205.50,208.04 L205.50,211.27 L205.50,214.50 L205.50,214.50 L334.8,214.5z" fill="#2042a7"/>
<path d="M334.80,101.01 L334.80,101.01 L331.96,101.01 L329.12,101.01 L326.28,101.01 L323.44,101.01 L320.60,101.02 L317.77,101.02 L314.93,101.02 L312.09,101.03 L309.26,101.03 L306.42,101.04 L303.59,101.05 L300.76,101.06 L297.93,101.07 L295.11,101.09 L292.28,101.11 L289.47,101.13 L286.65,101.16 L283.85,101.19 L281.05,101.23 L278.25,101.28 L275.47,101.34 L272.71,101.42 L269.95,101.50 L267.22,101.61 L264.51,101.74 L261.82,101.90 L259.17,102.08 L256.55,102.31 L253.98,102.57 L251.45,102.89 L248.99,103.27 L246.60,103.72 L244.29,104.25 L242.06,104.86 L239.94,105.58 L237.92,106.41 L236.03,107.35 L234.26,108.43 L232.62,109.63 L231.13,110.98 L229.77,112.46 L228.55,114.08 L227.46,115.83 L226.50,117.72 L225.66,119.72 L224.94,121.83 L224.31,124.05 L223.77,126.35 L223.32,128.74 L222.93,131.19 L222.61,133.71 L222.33,136.28 L222.10,138.89 L221.91,141.54 L221.76,144.22 L221.62,146.93 L221.51,149.66 L221.42,152.41 L221.35,155.18 L221.29,157.96 L221.24,160.75 L221.20,163.55 L221.16,166.36 L221.13,169.17 L221.11,171.99 L221.09,174.81 L221.07,177.63 L221.06,180.46 L221.05,183.29 L221.04,186.12 L221.03,188.96 L221.03,191.79 L221.02,194.63 L221.02,197.47 L221.02,200.30 L221.01,203.14 L221.01,205.98 L221.01,208.82 L221.01,211.66 L221.01,214.50 L221.01,214.50 L334.8,214.5z" fill="#2020a7"/>
</g>
<path d="M143.5,23.5H330.8V26.2H146.2V210.5H143.5Z" fill="#66902a"/>
<circle cx="143.5" cy="23.5" r="14" fill="url(#cornerA)"/>
</g>
<g clip-path="url(#clipC)"><g filter="url(#blur1)">
<rect x="135.7" y="311.9" width="198.7" height="198.8" fill="#8e9826"/>
<path d="M139.7,315.9h194.7v194.8h-194.7z" fill="#8e9826"/>
<path d="M334.40,319.20 L159.58,319.20 L159.16,319.20 L158.75,319.20 L158.34,319.20 L157.92,319.20 L157.51,319.20 L157.09,319.20 L156.68,319.20 L156.26,319.20 L155.85,319.20 L155.43,319.20 L155.02,319.20 L154.61,319.20 L154.19,319.20 L153.78,319.20 L153.36,319.20 L152.95,319.20 L152.53,319.20 L152.12,319.20 L151.70,319.20 L151.29,319.20 L150.87,319.20 L150.46,319.20 L150.05,319.20 L149.63,319.20 L149.22,319.20 L148.80,319.20 L148.39,319.20 L147.97,319.20 L147.56,319.20 L147.15,319.20 L146.73,319.20 L146.32,319.20 L145.91,319.20 L145.50,319.21 L145.09,319.22 L144.69,319.24 L144.31,319.27 L143.96,319.33 L143.66,319.44 L143.42,319.62 L143.24,319.86 L143.13,320.16 L143.07,320.51 L143.04,320.89 L143.02,321.29 L143.01,321.70 L143.00,322.11 L143.00,322.52 L143.00,322.93 L143.00,323.35 L143.00,323.76 L143.00,324.17 L143.00,324.59 L143.00,325.00 L143.00,325.42 L143.00,325.83 L143.00,326.25 L143.00,326.66 L143.00,327.07 L143.00,327.49 L143.00,327.90 L143.00,328.32 L143.00,328.73 L143.00,329.15 L143.00,329.56 L143.00,329.98 L143.00,330.39 L143.00,330.81 L143.00,331.22 L143.00,331.63 L143.00,332.05 L143.00,332.46 L143.00,332.88 L143.00,333.29 L143.00,333.71 L143.00,334.12 L143.00,334.54 L143.00,334.95 L143.00,335.36 L143.00,335.78 L143.00,510.70 L334.4,510.7z" fill="#69a020"/>
<path d="M334.40,319.80 L165.70,319.80 L165.15,319.80 L164.60,319.80 L164.05,319.80 L163.49,319.80 L162.94,319.80 L162.39,319.80 L161.84,319.80 L161.28,319.80 L160.73,319.80 L160.18,319.80 L159.63,319.80 L159.07,319.80 L158.52,319.80 L157.97,319.80 L157.42,319.80 L156.86,319.80 L156.31,319.80 L155.76,319.80 L155.21,319.80 L154.65,319.80 L154.10,319.80 L153.55,319.80 L152.99,319.80 L152.44,319.80 L151.89,319.80 L151.34,319.80 L150.78,319.80 L150.23,319.80 L149.68,319.80 L149.13,319.80 L148.58,319.80 L148.02,319.80 L147.47,319.81 L146.93,319.81 L146.39,319.82 L145.86,319.85 L145.35,319.89 L144.88,319.98 L144.48,320.13 L144.15,320.35 L143.93,320.68 L143.78,321.08 L143.69,321.55 L143.65,322.06 L143.62,322.59 L143.61,323.13 L143.61,323.67 L143.60,324.22 L143.60,324.78 L143.60,325.33 L143.60,325.88 L143.60,326.43 L143.60,326.98 L143.60,327.54 L143.60,328.09 L143.60,328.64 L143.60,329.19 L143.60,329.75 L143.60,330.30 L143.60,330.85 L143.60,331.41 L143.60,331.96 L143.60,332.51 L143.60,333.06 L143.60,333.62 L143.60,334.17 L143.60,334.72 L143.60,335.27 L143.60,335.83 L143.60,336.38 L143.60,336.93 L143.60,337.48 L143.60,338.04 L143.60,338.59 L143.60,339.14 L143.60,339.69 L143.60,340.25 L143.60,340.80 L143.60,341.35 L143.60,341.90 L143.60,510.70 L334.4,510.7z" fill="#20a020"/>
<path d="M334.40,321.80 L187.05,321.80 L186.01,321.80 L184.97,321.80 L183.94,321.80 L182.90,321.80 L181.87,321.80 L180.83,321.80 L179.79,321.80 L178.76,321.80 L177.72,321.80 L176.68,321.80 L175.65,321.80 L174.61,321.80 L173.58,321.80 L172.54,321.80 L171.50,321.80 L170.47,321.80 L169.43,321.80 L168.40,321.80 L167.36,321.80 L166.32,321.80 L165.29,321.80 L164.25,321.80 L163.21,321.80 L162.18,321.80 L161.14,321.80 L160.11,321.80 L159.07,321.80 L158.03,321.80 L157.00,321.80 L155.96,321.80 L154.93,321.80 L153.90,321.81 L152.86,321.81 L151.84,321.82 L150.83,321.85 L149.84,321.89 L148.89,321.98 L148.01,322.14 L147.25,322.41 L146.64,322.84 L146.21,323.45 L145.94,324.21 L145.78,325.09 L145.69,326.04 L145.65,327.03 L145.62,328.04 L145.61,329.07 L145.61,330.10 L145.60,331.13 L145.60,332.16 L145.60,333.20 L145.60,334.23 L145.60,335.27 L145.60,336.31 L145.60,337.34 L145.60,338.38 L145.60,339.41 L145.60,340.45 L145.60,341.49 L145.60,342.52 L145.60,343.56 L145.60,344.60 L145.60,345.63 L145.60,346.67 L145.60,347.70 L145.60,348.74 L145.60,349.78 L145.60,350.81 L145.60,351.85 L145.60,352.88 L145.60,353.92 L145.60,354.96 L145.60,355.99 L145.60,357.03 L145.60,358.07 L145.60,359.10 L145.60,360.14 L145.60,361.17 L145.60,362.21 L145.60,363.25 L145.60,510.70 L334.4,510.7z" fill="#20a044"/>
<path d="M334.40,322.80 L201.86,322.80 L200.48,322.80 L199.10,322.80 L197.72,322.80 L196.34,322.80 L194.95,322.80 L193.57,322.80 L192.19,322.80 L190.81,322.80 L189.43,322.80 L188.05,322.80 L186.66,322.80 L185.28,322.80 L183.90,322.80 L182.52,322.80 L181.14,322.80 L179.76,322.80 L178.38,322.80 L176.99,322.80 L175.61,322.80 L174.23,322.80 L172.85,322.80 L171.47,322.80 L170.09,322.80 L168.70,322.80 L167.32,322.80 L165.94,322.80 L164.56,322.80 L163.18,322.80 L161.80,322.80 L160.42,322.80 L159.04,322.80 L157.66,322.81 L156.29,322.82 L154.92,322.83 L153.57,322.86 L152.25,322.92 L150.98,323.04 L149.81,323.25 L148.79,323.61 L147.99,324.19 L147.41,324.99 L147.05,326.01 L146.84,327.18 L146.72,328.45 L146.66,329.77 L146.63,331.12 L146.62,332.49 L146.61,333.86 L146.60,335.24 L146.60,336.62 L146.60,338.00 L146.60,339.38 L146.60,340.76 L146.60,342.14 L146.60,343.52 L146.60,344.90 L146.60,346.29 L146.60,347.67 L146.60,349.05 L146.60,350.43 L146.60,351.81 L146.60,353.19 L146.60,354.58 L146.60,355.96 L146.60,357.34 L146.60,358.72 L146.60,360.10 L146.60,361.48 L146.60,362.87 L146.60,364.25 L146.60,365.63 L146.60,367.01 L146.60,368.39 L146.60,369.77 L146.60,371.15 L146.60,372.54 L146.60,373.92 L146.60,375.30 L146.60,376.68 L146.60,378.06 L146.60,510.70 L334.4,510.7z" fill="#20a068"/>
<path d="M334.40,323.80 L216.68,323.80 L214.95,323.80 L213.22,323.80 L211.50,323.80 L209.77,323.80 L208.04,323.80 L206.32,323.80 L204.59,323.80 L202.86,323.80 L201.14,323.80 L199.41,323.80 L197.68,323.80 L195.95,323.80 L194.23,323.80 L192.50,323.80 L190.77,323.80 L189.05,323.80 L187.32,323.80 L185.59,323.80 L183.87,323.80 L182.14,323.80 L180.41,323.80 L178.68,323.80 L176.96,323.80 L175.23,323.80 L173.50,323.80 L171.78,323.80 L170.05,323.80 L168.32,323.80 L166.60,323.80 L164.87,323.80 L163.15,323.80 L161.43,323.81 L159.71,323.82 L158.00,323.84 L156.31,323.88 L154.66,323.95 L153.08,324.10 L151.61,324.36 L150.34,324.82 L149.33,325.53 L148.62,326.54 L148.16,327.81 L147.90,329.28 L147.75,330.86 L147.68,332.51 L147.64,334.20 L147.62,335.91 L147.61,337.63 L147.60,339.35 L147.60,341.07 L147.60,342.80 L147.60,344.52 L147.60,346.25 L147.60,347.98 L147.60,349.70 L147.60,351.43 L147.60,353.16 L147.60,354.88 L147.60,356.61 L147.60,358.34 L147.60,360.07 L147.60,361.79 L147.60,363.52 L147.60,365.25 L147.60,366.97 L147.60,368.70 L147.60,370.43 L147.60,372.15 L147.60,373.88 L147.60,375.61 L147.60,377.34 L147.60,379.06 L147.60,380.79 L147.60,382.52 L147.60,384.24 L147.60,385.97 L147.60,387.70 L147.60,389.42 L147.60,391.15 L147.60,392.88 L147.60,510.70 L334.4,510.7z" fill="#20a083"/>
<path d="M334.40,325.10 L231.79,325.10 L229.72,325.10 L227.65,325.10 L225.58,325.10 L223.50,325.10 L221.43,325.10 L219.36,325.10 L217.29,325.10 L215.21,325.10 L213.14,325.10 L211.07,325.10 L209.00,325.10 L206.93,325.10 L204.85,325.10 L202.78,325.10 L200.71,325.10 L198.64,325.10 L196.56,325.10 L194.49,325.10 L192.42,325.10 L190.35,325.10 L188.27,325.10 L186.20,325.10 L184.13,325.10 L182.06,325.10 L179.98,325.10 L177.91,325.10 L175.84,325.10 L173.77,325.10 L171.70,325.10 L169.63,325.10 L167.56,325.11 L165.49,325.11 L163.43,325.12 L161.38,325.15 L159.36,325.19 L157.37,325.28 L155.47,325.46 L153.72,325.77 L152.19,326.32 L150.98,327.18 L150.12,328.39 L149.57,329.92 L149.26,331.67 L149.08,333.57 L148.99,335.56 L148.95,337.58 L148.92,339.63 L148.91,341.69 L148.91,343.76 L148.90,345.83 L148.90,347.90 L148.90,349.97 L148.90,352.04 L148.90,354.11 L148.90,356.19 L148.90,358.26 L148.90,360.33 L148.90,362.40 L148.90,364.47 L148.90,366.55 L148.90,368.62 L148.90,370.69 L148.90,372.76 L148.90,374.84 L148.90,376.91 L148.90,378.98 L148.90,381.05 L148.90,383.13 L148.90,385.20 L148.90,387.27 L148.90,389.34 L148.90,391.41 L148.90,393.49 L148.90,395.56 L148.90,397.63 L148.90,399.70 L148.90,401.78 L148.90,403.85 L148.90,405.92 L148.90,407.99 L148.90,510.70 L334.4,510.7z" fill="#20a095"/>
<path d="M334.40,326.90 L275.04,326.90 L271.93,326.90 L268.82,326.90 L265.71,326.90 L262.61,326.90 L259.50,326.90 L256.39,326.90 L253.28,326.90 L250.17,326.90 L247.06,326.90 L243.95,326.90 L240.85,326.90 L237.74,326.90 L234.63,326.90 L231.52,326.90 L228.41,326.90 L225.30,326.90 L222.20,326.90 L219.09,326.90 L215.98,326.90 L212.87,326.90 L209.76,326.90 L206.65,326.90 L203.54,326.90 L200.44,326.90 L197.33,326.90 L194.22,326.90 L191.11,326.90 L188.00,326.90 L184.90,326.90 L181.79,326.90 L178.69,326.91 L175.59,326.92 L172.49,326.94 L169.42,326.97 L166.38,327.04 L163.41,327.18 L160.56,327.43 L157.93,327.91 L155.64,328.73 L153.82,330.02 L152.53,331.84 L151.71,334.13 L151.23,336.76 L150.98,339.61 L150.84,342.58 L150.77,345.62 L150.74,348.70 L150.72,351.79 L150.71,354.89 L150.70,357.99 L150.70,361.10 L150.70,364.20 L150.70,367.31 L150.70,370.42 L150.70,373.53 L150.70,376.64 L150.70,379.74 L150.70,382.85 L150.70,385.96 L150.70,389.07 L150.70,392.18 L150.70,395.29 L150.70,398.40 L150.70,401.50 L150.70,404.61 L150.70,407.72 L150.70,410.83 L150.70,413.94 L150.70,417.05 L150.70,420.15 L150.70,423.26 L150.70,426.37 L150.70,429.48 L150.70,432.59 L150.70,435.70 L150.70,438.81 L150.70,441.91 L150.70,445.02 L150.70,448.13 L150.70,451.24 L150.70,510.70 L334.4,510.7z" fill="#20a0a7"/>
<path d="M334.40,330.40 L259.54,330.40 L257.51,330.40 L255.46,330.40 L253.41,330.40 L251.34,330.40 L249.25,330.40 L247.16,330.40 L245.05,330.40 L242.92,330.40 L240.78,330.40 L238.63,330.40 L236.45,330.40 L234.26,330.40 L232.05,330.40 L229.83,330.40 L227.58,330.40 L225.31,330.40 L223.02,330.40 L220.71,330.40 L218.37,330.40 L216.00,330.40 L213.61,330.40 L211.19,330.40 L208.74,330.40 L206.26,330.40 L203.74,330.40 L201.17,330.40 L198.57,330.41 L195.92,330.41 L193.22,330.42 L190.47,330.44 L187.65,330.47 L184.76,330.52 L181.80,330.60 L178.75,330.74 L175.62,330.97 L172.42,331.36 L169.19,331.99 L166.00,333.00 L163.01,334.50 L160.39,336.59 L158.30,339.21 L156.80,342.20 L155.79,345.39 L155.16,348.63 L154.77,351.82 L154.54,354.95 L154.40,358.00 L154.32,360.96 L154.27,363.85 L154.24,366.67 L154.22,369.42 L154.21,372.12 L154.21,374.77 L154.20,377.37 L154.20,379.94 L154.20,382.46 L154.20,384.94 L154.20,387.39 L154.20,389.81 L154.20,392.20 L154.20,394.57 L154.20,396.91 L154.20,399.22 L154.20,401.51 L154.20,403.78 L154.20,406.03 L154.20,408.25 L154.20,410.46 L154.20,412.65 L154.20,414.83 L154.20,416.98 L154.20,419.12 L154.20,421.25 L154.20,423.36 L154.20,425.45 L154.20,427.54 L154.20,429.61 L154.20,431.66 L154.20,433.71 L154.20,435.74 L154.20,510.70 L334.4,510.7z" fill="#208fa7"/>
<path d="M334.40,334.40 L294.37,334.40 L291.74,334.40 L289.10,334.40 L286.44,334.40 L283.77,334.40 L281.07,334.40 L278.37,334.40 L275.64,334.40 L272.89,334.40 L270.12,334.40 L267.34,334.40 L264.53,334.40 L261.69,334.40 L258.84,334.40 L255.96,334.40 L253.05,334.40 L250.12,334.40 L247.16,334.40 L244.17,334.40 L241.15,334.40 L238.09,334.40 L235.00,334.40 L231.87,334.40 L228.70,334.40 L225.49,334.40 L222.23,334.40 L218.92,334.41 L215.56,334.41 L212.13,334.42 L208.64,334.43 L205.08,334.45 L201.44,334.49 L197.70,334.55 L193.87,334.66 L189.94,334.83 L185.89,335.13 L181.76,335.64 L177.58,336.46 L173.46,337.75 L169.58,339.70 L166.20,342.40 L163.50,345.78 L161.55,349.66 L160.26,353.78 L159.44,357.96 L158.93,362.09 L158.63,366.14 L158.46,370.07 L158.35,373.90 L158.29,377.64 L158.25,381.28 L158.23,384.84 L158.22,388.33 L158.21,391.76 L158.21,395.12 L158.20,398.43 L158.20,401.69 L158.20,404.90 L158.20,408.07 L158.20,411.20 L158.20,414.29 L158.20,417.35 L158.20,420.37 L158.20,423.36 L158.20,426.32 L158.20,429.25 L158.20,432.16 L158.20,435.04 L158.20,437.89 L158.20,440.73 L158.20,443.54 L158.20,446.32 L158.20,449.09 L158.20,451.84 L158.20,454.57 L158.20,457.28 L158.20,459.97 L158.20,462.64 L158.20,465.30 L158.20,467.94 L158.20,470.57 L158.20,510.70 L334.4,510.7z" fill="#207ea7"/>
<path d="M334.40,341.20 L334.40,341.20 L331.13,341.20 L327.84,341.20 L324.54,341.20 L321.21,341.20 L317.86,341.20 L314.49,341.20 L311.09,341.20 L307.67,341.20 L304.23,341.20 L300.76,341.20 L297.26,341.20 L293.74,341.20 L290.18,341.20 L286.60,341.20 L282.98,341.20 L279.33,341.20 L275.65,341.20 L271.93,341.20 L268.17,341.20 L264.36,341.20 L260.52,341.20 L256.62,341.20 L252.68,341.20 L248.68,341.20 L244.62,341.21 L240.50,341.21 L236.32,341.22 L232.05,341.24 L227.71,341.26 L223.28,341.30 L218.74,341.36 L214.10,341.46 L209.34,341.63 L204.46,341.91 L199.47,342.35 L194.37,343.07 L189.25,344.20 L184.24,345.91 L179.54,348.40 L175.43,351.74 L172.11,355.88 L169.65,360.59 L167.95,365.61 L166.84,370.73 L166.14,375.82 L165.70,380.82 L165.43,385.69 L165.26,390.45 L165.16,395.08 L165.10,399.61 L165.06,404.04 L165.04,408.39 L165.02,412.64 L165.01,416.83 L165.01,420.95 L165.00,425.00 L165.00,429.00 L165.00,432.94 L165.00,436.83 L165.00,440.68 L165.00,444.48 L165.00,448.24 L165.00,451.96 L165.00,455.65 L165.00,459.29 L165.00,462.91 L165.00,466.49 L165.00,470.05 L165.00,473.57 L165.00,477.06 L165.00,480.53 L165.00,483.98 L165.00,487.39 L165.00,490.79 L165.00,494.16 L165.00,497.51 L165.00,500.84 L165.00,504.14 L165.00,507.43 L165.00,510.70 L165.00,510.70 L334.4,510.7z" fill="#2064a7"/>
<path d="M334.40,351.90 L334.40,351.90 L331.34,351.90 L328.26,351.90 L325.16,351.90 L322.04,351.90 L318.90,351.90 L315.74,351.90 L312.56,351.90 L309.36,351.90 L306.13,351.90 L302.88,351.90 L299.61,351.90 L296.30,351.90 L292.98,351.90 L289.62,351.90 L286.23,351.90 L282.81,351.90 L279.36,351.90 L275.87,351.90 L272.35,351.91 L268.79,351.91 L265.18,351.91 L261.53,351.92 L257.84,351.92 L254.09,351.93 L250.29,351.95 L246.44,351.98 L242.52,352.01 L238.53,352.06 L234.47,352.14 L230.34,352.25 L226.12,352.41 L221.82,352.64 L217.44,352.98 L212.99,353.48 L208.48,354.19 L203.96,355.19 L199.50,356.58 L195.20,358.46 L191.20,360.91 L187.64,363.95 L184.62,367.53 L182.19,371.54 L180.33,375.84 L178.95,380.31 L177.96,384.83 L177.26,389.33 L176.77,393.79 L176.43,398.17 L176.20,402.46 L176.04,406.68 L175.93,410.81 L175.86,414.86 L175.81,418.85 L175.77,422.77 L175.75,426.62 L175.73,430.42 L175.72,434.16 L175.72,437.85 L175.71,441.50 L175.71,445.10 L175.71,448.66 L175.70,452.19 L175.70,455.67 L175.70,459.12 L175.70,462.54 L175.70,465.93 L175.70,469.28 L175.70,472.61 L175.70,475.91 L175.70,479.19 L175.70,482.44 L175.70,485.66 L175.70,488.87 L175.70,492.05 L175.70,495.20 L175.70,498.34 L175.70,501.46 L175.70,504.56 L175.70,507.64 L175.70,510.70 L175.70,510.70 L334.4,510.7z" fill="#2042a7"/>
<path d="M334.40,365.90 L334.40,365.90 L331.61,365.90 L328.80,365.90 L325.97,365.90 L323.13,365.90 L320.27,365.90 L317.39,365.90 L314.49,365.90 L311.57,365.90 L308.62,365.90 L305.66,365.90 L302.67,365.90 L299.66,365.90 L296.63,365.90 L293.57,365.90 L290.48,365.90 L287.36,365.90 L284.21,365.90 L281.03,365.91 L277.82,365.91 L274.57,365.91 L271.29,365.92 L267.96,365.93 L264.59,365.94 L261.18,365.95 L257.71,365.98 L254.20,366.01 L250.63,366.06 L247.00,366.12 L243.31,366.21 L239.55,366.35 L235.72,366.54 L231.82,366.80 L227.86,367.18 L223.84,367.71 L219.79,368.44 L215.76,369.45 L211.79,370.80 L207.98,372.58 L204.44,374.83 L201.26,377.57 L198.54,380.76 L196.31,384.31 L194.55,388.13 L193.21,392.10 L192.21,396.14 L191.49,400.18 L190.96,404.20 L190.59,408.16 L190.33,412.06 L190.14,415.88 L190.01,419.64 L189.92,423.33 L189.85,426.96 L189.81,430.53 L189.78,434.04 L189.75,437.50 L189.74,440.91 L189.73,444.28 L189.72,447.60 L189.71,450.89 L189.71,454.14 L189.71,457.35 L189.70,460.53 L189.70,463.67 L189.70,466.79 L189.70,469.88 L189.70,472.94 L189.70,475.97 L189.70,478.98 L189.70,481.97 L189.70,484.93 L189.70,487.87 L189.70,490.79 L189.70,493.69 L189.70,496.57 L189.70,499.43 L189.70,502.28 L189.70,505.10 L189.70,507.91 L189.70,510.70 L189.70,510.70 L334.4,510.7z" fill="#2020a7"/>
</g>
<path d="M139.7,315.9H330.4V319.09999999999997H142.89999999999998V506.7H139.7Z" fill="#8e9826"/>
<circle cx="139.7" cy="315.9" r="14" fill="url(#cornerC)"/>
</g>
<g clip-path="url(#clipD)">
<rect x="486.8" y="314.2" width="191.2" height="191.6" fill="url(#dbg)"/>
<g filter="url(#blur2)">
<rect x="483.8" y="311.2" width="197.2" height="5.2" fill="#2030b0" opacity="0.8"/>
<rect x="483.8" y="311.2" width="4.8" height="197.6" fill="#38a0c8" opacity="0.8"/>
<rect x="483.8" y="504.19999999999993" width="86.03999999999999" height="5" fill="#38a8c0" opacity="0.6"/>
<circle cx="505.92" cy="333.36" r="18.80" fill="none" stroke="url(#dring)" stroke-width="1.7"/>
<circle cx="544.16" cy="333.36" r="18.80" fill="none" stroke="url(#dring)" stroke-width="1.7"/>
<circle cx="582.40" cy="333.36" r="18.80" fill="none" stroke="url(#dring)" stroke-width="1.7"/>
<circle cx="620.64" cy="333.36" r="18.80" fill="none" stroke="url(#dring)" stroke-width="1.7"/>
<circle cx="658.88" cy="333.36" r="18.80" fill="none" stroke="url(#dring)" stroke-width="1.7"/>
<circle cx="505.92" cy="371.68" r="18.80" fill="none" stroke="url(#dring)" stroke-width="1.7"/>
<circle cx="544.16" cy="371.68" r="18.80" fill="none" stroke="url(#dring)" stroke-width="1.7"/>
<circle cx="582.40" cy="371.68" r="18.80" fill="none" stroke="url(#dring)" stroke-width="1.7"/>
<circle cx="620.64" cy="371.68" r="18.80" fill="none" stroke="url(#dring)" stroke-width="1.7"/>
<circle cx="658.88" cy="371.68" r="18.80" fill="none" stroke="url(#dring)" stroke-width="1.7"/>
<circle cx="505.92" cy="410.00" r="18.80" fill="none" stroke="url(#dring)" stroke-width="1.7"/>
<circle cx="544.16" cy="410.00" r="18.80" fill="none" stroke="url(#dring)" stroke-width="1.7"/>
<circle cx="582.40" cy="410.00" r="18.80" fill="none" stroke="url(#dring)" stroke-width="1.7"/>
<circle cx="620.64" cy="410.00" r="18.80" fill="none" stroke="url(#dring)" stroke-width="1.7"/>
<circle cx="658.88" cy="410.00" r="18.80" fill="none" stroke="url(#dring)" stroke-width="1.7"/>
<circle cx="505.92" cy="448.32" r="18.80" fill="none" stroke="url(#dring)" stroke-width="1.7"/>
<circle cx="544.16" cy="448.32" r="18.80" fill="none" stroke="url(#dring)" stroke-width="1.7"/>
<circle cx="582.40" cy="448.32" r="18.80" fill="none" stroke="url(#dring)" stroke-width="1.7"/>
<circle cx="620.64" cy="448.32" r="18.80" fill="none" stroke="url(#dring)" stroke-width="1.7"/>
<circle cx="658.88" cy="448.32" r="18.80" fill="none" stroke="url(#dring)" stroke-width="1.7"/>
<circle cx="505.92" cy="486.64" r="18.80" fill="none" stroke="url(#dring)" stroke-width="1.7"/>
<circle cx="544.16" cy="486.64" r="18.80" fill="none" stroke="url(#dring)" stroke-width="1.7"/>
<circle cx="582.40" cy="486.64" r="18.80" fill="none" stroke="url(#dring)" stroke-width="1.7"/>
<circle cx="620.64" cy="486.64" r="18.80" fill="none" stroke="url(#dring)" stroke-width="1.7"/>
<circle cx="658.88" cy="486.64" r="18.80" fill="none" stroke="url(#dring)" stroke-width="1.7"/>
</g>
<circle cx="505.92" cy="333.36" r="18.10" fill="url(#dcirc)"/>
<circle cx="505.92" cy="333.36" r="18.10" fill="url(#dleft)"/>
<circle cx="544.16" cy="333.36" r="18.10" fill="url(#dcirc)"/>
<circle cx="582.40" cy="333.36" r="18.10" fill="url(#dcirc)"/>
<circle cx="620.64" cy="333.36" r="18.10" fill="url(#dcirc)"/>
<circle cx="658.88" cy="333.36" r="18.10" fill="url(#dcirc)"/>
<circle cx="505.92" cy="371.68" r="18.10" fill="url(#dcirc)"/>
<circle cx="505.92" cy="371.68" r="18.10" fill="url(#dleft)"/>
<circle cx="544.16" cy="371.68" r="18.10" fill="url(#dcirc)"/>
<circle cx="582.40" cy="371.68" r="18.10" fill="url(#dcirc)"/>
<circle cx="620.64" cy="371.68" r="18.10" fill="url(#dcirc)"/>
<circle cx="658.88" cy="371.68" r="18.10" fill="url(#dcirc)"/>
<circle cx="505.92" cy="410.00" r="18.10" fill="url(#dcirc)"/>
<circle cx="505.92" cy="410.00" r="18.10" fill="url(#dleft)"/>
<circle cx="544.16" cy="410.00" r="18.10" fill="url(#dcirc)"/>
<circle cx="582.40" cy="410.00" r="18.10" fill="url(#dcirc)"/>
<circle cx="620.64" cy="410.00" r="18.10" fill="url(#dcirc)"/>
<circle cx="658.88" cy="410.00" r="18.10" fill="url(#dcirc)"/>
<circle cx="505.92" cy="448.32" r="18.10" fill="url(#dcirc)"/>
<circle cx="505.92" cy="448.32" r="18.10" fill="url(#dleft)"/>
<circle cx="544.16" cy="448.32" r="18.10" fill="url(#dcirc)"/>
<circle cx="582.40" cy="448.32" r="18.10" fill="url(#dcirc)"/>
<circle cx="620.64" cy="448.32" r="18.10" fill="url(#dcirc)"/>
<circle cx="658.88" cy="448.32" r="18.10" fill="url(#dcirc)"/>
<circle cx="505.92" cy="486.64" r="18.10" fill="url(#dcirc)"/>
<circle cx="505.92" cy="486.64" r="18.10" fill="url(#dleft)"/>
<circle cx="544.16" cy="486.64" r="18.10" fill="url(#dcirc)"/>
<circle cx="582.40" cy="486.64" r="18.10" fill="url(#dcirc)"/>
<circle cx="620.64" cy="486.64" r="18.10" fill="url(#dcirc)"/>
<circle cx="658.88" cy="486.64" r="18.10" fill="url(#dcirc)"/>
</g>
<rect x="492.4" y="10.5" width="191.9" height="191.9" fill="#e4e8ee" filter="url(#blur1)"/>
<g clip-path="url(#clipB)">
<g filter="url(#blur3)">
<rect x="491.4" y="9.5" width="195.4" height="195.1" fill="url(#bbg)"/>
<rect x="491.4" y="9.5" width="195.4" height="5" fill="#58b838" opacity="0.7"/>
<rect x="491.4" y="9.5" width="5" height="195.1" fill="#58b838" opacity="0.7"/>
<circle cx="513.34" cy="31.41" r="17.00" fill="none" stroke="#34b878" stroke-width="4.0" opacity="0.9"/>
<circle cx="513.34" cy="31.41" r="16.20" fill="none" stroke="#50c048" stroke-width="1.6" opacity="0.45"/>
<circle cx="551.22" cy="31.41" r="17.00" fill="none" stroke="#2fb788" stroke-width="4.0" opacity="0.9"/>
<circle cx="551.22" cy="31.41" r="16.20" fill="none" stroke="#46c062" stroke-width="1.6" opacity="0.45"/>
<circle cx="589.10" cy="31.41" r="17.00" fill="none" stroke="#2bb698" stroke-width="4.0" opacity="0.9"/>
<circle cx="589.10" cy="31.41" r="16.20" fill="none" stroke="#3bc07d" stroke-width="1.6" opacity="0.45"/>
<circle cx="626.98" cy="31.41" r="17.00" fill="none" stroke="#26b5a8" stroke-width="4.0" opacity="0.9"/>
<circle cx="626.98" cy="31.41" r="16.20" fill="none" stroke="#31c097" stroke-width="1.6" opacity="0.45"/>
<circle cx="664.86" cy="31.41" r="17.00" fill="none" stroke="#24b4b0" stroke-width="4.0" opacity="0.9"/>
<circle cx="664.86" cy="31.41" r="16.20" fill="none" stroke="#2cc0a4" stroke-width="1.6" opacity="0.45"/>
<circle cx="513.34" cy="69.23" r="17.00" fill="none" stroke="#2fb788" stroke-width="4.0" opacity="0.9"/>
<circle cx="513.34" cy="69.23" r="16.20" fill="none" stroke="#46c062" stroke-width="1.6" opacity="0.45"/>
<circle cx="551.22" cy="69.23" r="17.00" fill="none" stroke="#2bb698" stroke-width="4.0" opacity="0.9"/>
<circle cx="551.22" cy="69.23" r="16.20" fill="none" stroke="#3bc07d" stroke-width="1.6" opacity="0.45"/>
<circle cx="589.10" cy="69.23" r="17.00" fill="none" stroke="#26b5a8" stroke-width="4.0" opacity="0.9"/>
<circle cx="589.10" cy="69.23" r="16.20" fill="none" stroke="#31c097" stroke-width="1.6" opacity="0.45"/>
<circle cx="626.98" cy="69.23" r="17.00" fill="none" stroke="#24b4b0" stroke-width="4.0" opacity="0.9"/>
<circle cx="626.98" cy="69.23" r="16.20" fill="none" stroke="#2cc0a4" stroke-width="1.6" opacity="0.45"/>
<circle cx="664.86" cy="69.23" r="17.00" fill="none" stroke="#24b4b0" stroke-width="4.0" opacity="0.9"/>
<circle cx="664.86" cy="69.23" r="16.20" fill="none" stroke="#2cc0a4" stroke-width="1.6" opacity="0.45"/>
<circle cx="513.34" cy="107.05" r="17.00" fill="none" stroke="#2bb698" stroke-width="4.0" opacity="0.9"/>
<circle cx="513.34" cy="107.05" r="16.20" fill="none" stroke="#3bc07d" stroke-width="1.6" opacity="0.45"/>
<circle cx="551.22" cy="107.05" r="17.00" fill="none" stroke="#26b5a8" stroke-width="4.0" opacity="0.9"/>
<circle cx="551.22" cy="107.05" r="16.20" fill="none" stroke="#31c097" stroke-width="1.6" opacity="0.45"/>
<circle cx="589.10" cy="107.05" r="17.00" fill="none" stroke="#24b4b0" stroke-width="4.0" opacity="0.9"/>
<circle cx="589.10" cy="107.05" r="16.20" fill="none" stroke="#2cc0a4" stroke-width="1.6" opacity="0.45"/>
<circle cx="626.98" cy="107.05" r="17.00" fill="none" stroke="#24b4b0" stroke-width="4.0" opacity="0.9"/>
<circle cx="626.98" cy="107.05" r="16.20" fill="none" stroke="#2cc0a4" stroke-width="1.6" opacity="0.45"/>
<circle cx="664.86" cy="107.05" r="17.00" fill="none" stroke="#24b4b0" stroke-width="4.0" opacity="0.9"/>
<circle cx="664.86" cy="107.05" r="16.20" fill="none" stroke="#2cc0a4" stroke-width="1.6" opacity="0.45"/>
<circle cx="513.34" cy="144.87" r="17.00" fill="none" stroke="#26b5a8" stroke-width="4.0" opacity="0.9"/>
<circle cx="513.34" cy="144.87" r="16.20" fill="none" stroke="#31c097" stroke-width="1.6" opacity="0.45"/>
<circle cx="551.22" cy="144.87" r="17.00" fill="none" stroke="#24b4b0" stroke-width="4.0" opacity="0.9"/>
<circle cx="551.22" cy="144.87" r="16.20" fill="none" stroke="#2cc0a4" stroke-width="1.6" opacity="0.45"/>
<circle cx="589.10" cy="144.87" r="17.00" fill="none" stroke="#24b4b0" stroke-width="4.0" opacity="0.9"/>
<circle cx="589.10" cy="144.87" r="16.20" fill="none" stroke="#2cc0a4" stroke-width="1.6" opacity="0.45"/>
<circle cx="626.98" cy="144.87" r="17.00" fill="none" stroke="#24b4b0" stroke-width="4.0" opacity="0.9"/>
<circle cx="626.98" cy="144.87" r="16.20" fill="none" stroke="#2cc0a4" stroke-width="1.6" opacity="0.45"/>
<circle cx="664.86" cy="144.87" r="17.00" fill="none" stroke="#24b4b0" stroke-width="4.0" opacity="0.9"/>
<circle cx="664.86" cy="144.87" r="16.20" fill="none" stroke="#2cc0a4" stroke-width="1.6" opacity="0.45"/>
<circle cx="513.34" cy="182.69" r="17.00" fill="none" stroke="#24b4b0" stroke-width="4.0" opacity="0.9"/>
<circle cx="513.34" cy="182.69" r="16.20" fill="none" stroke="#2cc0a4" stroke-width="1.6" opacity="0.45"/>
<circle cx="551.22" cy="182.69" r="17.00" fill="none" stroke="#24b4b0" stroke-width="4.0" opacity="0.9"/>
<circle cx="551.22" cy="182.69" r="16.20" fill="none" stroke="#2cc0a4" stroke-width="1.6" opacity="0.45"/>
<circle cx="589.10" cy="182.69" r="17.00" fill="none" stroke="#24b4b0" stroke-width="4.0" opacity="0.9"/>
<circle cx="589.10" cy="182.69" r="16.20" fill="none" stroke="#2cc0a4" stroke-width="1.6" opacity="0.45"/>
<circle cx="626.98" cy="182.69" r="17.00" fill="none" stroke="#24b4b0" stroke-width="4.0" opacity="0.9"/>
<circle cx="626.98" cy="182.69" r="16.20" fill="none" stroke="#2cc0a4" stroke-width="1.6" opacity="0.45"/>
<circle cx="664.86" cy="182.69" r="17.00" fill="none" stroke="#24b4b0" stroke-width="4.0" opacity="0.9"/>
<circle cx="664.86" cy="182.69" r="16.20" fill="none" stroke="#2cc0a4" stroke-width="1.6" opacity="0.45"/>
<circle cx="494.4" cy="12.5" r="2.6" fill="#a83820" opacity="0.85"/>
<g transform="translate(570.16,50.32)">
<path d="M0,-15.5 Q3.6,-3.6 15.5,0 Q3.6,3.6 0,15.5 Q-3.6,3.6 -15.5,0 Q-3.6,-3.6 0,-15.5Z" fill="#2a7cc6" opacity="0.16"/>
</g>
<g transform="translate(608.04,50.32)">
<path d="M0,-15.5 Q3.6,-3.6 15.5,0 Q3.6,3.6 0,15.5 Q-3.6,3.6 -15.5,0 Q-3.6,-3.6 0,-15.5Z" fill="#2a7cc6" opacity="0.32"/>
</g>
<g transform="translate(645.92,50.32)">
<path d="M0,-15.5 Q3.6,-3.6 15.5,0 Q3.6,3.6 0,15.5 Q-3.6,3.6 -15.5,0 Q-3.6,-3.6 0,-15.5Z" fill="#2a7cc6" opacity="0.41"/>
</g>
<g transform="translate(683.80,50.32)">
<path d="M0,-15.5 Q3.6,-3.6 15.5,0 Q3.6,3.6 0,15.5 Q-3.6,3.6 -15.5,0 Q-3.6,-3.6 0,-15.5Z" fill="#2a7cc6" opacity="0.41"/>
</g>
<g transform="translate(532.28,88.14)">
<path d="M0,-15.5 Q3.6,-3.6 15.5,0 Q3.6,3.6 0,15.5 Q-3.6,3.6 -15.5,0 Q-3.6,-3.6 0,-15.5Z" fill="#2a7cc6" opacity="0.21"/>
</g>
<g transform="translate(570.16,88.14)">
<path d="M0,-15.5 Q3.6,-3.6 15.5,0 Q3.6,3.6 0,15.5 Q-3.6,3.6 -15.5,0 Q-3.6,-3.6 0,-15.5Z" fill="#2a7cc6" opacity="0.83"/>
<rect x="-4.8" y="-4.8" width="9.6" height="9.6" rx="3" fill="#2244c0" opacity="0.17"/>
</g>
<g transform="translate(608.04,88.14)">
<path d="M0,-15.5 Q3.6,-3.6 15.5,0 Q3.6,3.6 0,15.5 Q-3.6,3.6 -15.5,0 Q-3.6,-3.6 0,-15.5Z" fill="#2a7cc6" opacity="0.90"/>
<rect x="-4.8" y="-4.8" width="9.6" height="9.6" rx="3" fill="#2244c0" opacity="0.51"/>
</g>
<g transform="translate(645.92,88.14)">
<path d="M0,-15.5 Q3.6,-3.6 15.5,0 Q3.6,3.6 0,15.5 Q-3.6,3.6 -15.5,0 Q-3.6,-3.6 0,-15.5Z" fill="#2a7cc6" opacity="0.90"/>
<rect x="-4.8" y="-4.8" width="9.6" height="9.6" rx="3" fill="#2244c0" opacity="0.85"/>
</g>
<g transform="translate(683.80,88.14)">
<path d="M0,-15.5 Q3.6,-3.6 15.5,0 Q3.6,3.6 0,15.5 Q-3.6,3.6 -15.5,0 Q-3.6,-3.6 0,-15.5Z" fill="#2a7cc6" opacity="0.90"/>
<rect x="-4.8" y="-4.8" width="9.6" height="9.6" rx="3" fill="#2244c0" opacity="0.85"/>
</g>
<g transform="translate(532.28,125.96)">
<path d="M0,-15.5 Q3.6,-3.6 15.5,0 Q3.6,3.6 0,15.5 Q-3.6,3.6 -15.5,0 Q-3.6,-3.6 0,-15.5Z" fill="#2a7cc6" opacity="0.41"/>
</g>
<g transform="translate(570.16,125.96)">
<path d="M0,-15.5 Q3.6,-3.6 15.5,0 Q3.6,3.6 0,15.5 Q-3.6,3.6 -15.5,0 Q-3.6,-3.6 0,-15.5Z" fill="#2a7cc6" opacity="0.90"/>
<rect x="-4.8" y="-4.8" width="9.6" height="9.6" rx="3" fill="#2244c0" opacity="0.51"/>
</g>
<g transform="translate(608.04,125.96)">
<path d="M0,-15.5 Q3.6,-3.6 15.5,0 Q3.6,3.6 0,15.5 Q-3.6,3.6 -15.5,0 Q-3.6,-3.6 0,-15.5Z" fill="#2a7cc6" opacity="0.90"/>
<rect x="-4.8" y="-4.8" width="9.6" height="9.6" rx="3" fill="#2244c0" opacity="0.85"/>
</g>
<g transform="translate(645.92,125.96)">
<path d="M0,-15.5 Q3.6,-3.6 15.5,0 Q3.6,3.6 0,15.5 Q-3.6,3.6 -15.5,0 Q-3.6,-3.6 0,-15.5Z" fill="#2a7cc6" opacity="0.90"/>
<rect x="-4.8" y="-4.8" width="9.6" height="9.6" rx="3" fill="#2244c0" opacity="0.85"/>
</g>
<g transform="translate(683.80,125.96)">
<path d="M0,-15.5 Q3.6,-3.6 15.5,0 Q3.6,3.6 0,15.5 Q-3.6,3.6 -15.5,0 Q-3.6,-3.6 0,-15.5Z" fill="#2a7cc6" opacity="0.90"/>
<rect x="-4.8" y="-4.8" width="9.6" height="9.6" rx="3" fill="#2244c0" opacity="0.85"/>
</g>
<g transform="translate(532.28,163.78)">
<path d="M0,-15.5 Q3.6,-3.6 15.5,0 Q3.6,3.6 0,15.5 Q-3.6,3.6 -15.5,0 Q-3.6,-3.6 0,-15.5Z" fill="#2a7cc6" opacity="0.41"/>
</g>
<g transform="translate(570.16,163.78)">
<path d="M0,-15.5 Q3.6,-3.6 15.5,0 Q3.6,3.6 0,15.5 Q-3.6,3.6 -15.5,0 Q-3.6,-3.6 0,-15.5Z" fill="#2a7cc6" opacity="0.90"/>
<rect x="-4.8" y="-4.8" width="9.6" height="9.6" rx="3" fill="#2244c0" opacity="0.85"/>
</g>
<g transform="translate(608.04,163.78)">
<path d="M0,-15.5 Q3.6,-3.6 15.5,0 Q3.6,3.6 0,15.5 Q-3.6,3.6 -15.5,0 Q-3.6,-3.6 0,-15.5Z" fill="#2a7cc6" opacity="0.90"/>
<rect x="-4.8" y="-4.8" width="9.6" height="9.6" rx="3" fill="#2244c0" opacity="0.85"/>
</g>
<g transform="translate(645.92,163.78)">
<path d="M0,-15.5 Q3.6,-3.6 15.5,0 Q3.6,3.6 0,15.5 Q-3.6,3.6 -15.5,0 Q-3.6,-3.6 0,-15.5Z" fill="#2a7cc6" opacity="0.90"/>
<rect x="-4.8" y="-4.8" width="9.6" height="9.6" rx="3" fill="#2244c0" opacity="0.85"/>
</g>
<g transform="translate(683.80,163.78)">
<path d="M0,-15.5 Q3.6,-3.6 15.5,0 Q3.6,3.6 0,15.5 Q-3.6,3.6 -15.5,0 Q-3.6,-3.6 0,-15.5Z" fill="#2a7cc6" opacity="0.90"/>
<rect x="-4.8" y="-4.8" width="9.6" height="9.6" rx="3" fill="#2244c0" opacity="0.85"/>
</g>
<g transform="translate(532.28,201.60)">
<path d="M0,-15.5 Q3.6,-3.6 15.5,0 Q3.6,3.6 0,15.5 Q-3.6,3.6 -15.5,0 Q-3.6,-3.6 0,-15.5Z" fill="#2a7cc6" opacity="0.41"/>
</g>
<g transform="translate(570.16,201.60)">
<path d="M0,-15.5 Q3.6,-3.6 15.5,0 Q3.6,3.6 0,15.5 Q-3.6,3.6 -15.5,0 Q-3.6,-3.6 0,-15.5Z" fill="#2a7cc6" opacity="0.90"/>
<rect x="-4.8" y="-4.8" width="9.6" height="9.6" rx="3" fill="#2244c0" opacity="0.85"/>
</g>
<g transform="translate(608.04,201.60)">
<path d="M0,-15.5 Q3.6,-3.6 15.5,0 Q3.6,3.6 0,15.5 Q-3.6,3.6 -15.5,0 Q-3.6,-3.6 0,-15.5Z" fill="#2a7cc6" opacity="0.90"/>
<rect x="-4.8" y="-4.8" width="9.6" height="9.6" rx="3" fill="#2244c0" opacity="0.85"/>
</g>
<g transform="translate(645.92,201.60)">
<path d="M0,-15.5 Q3.6,-3.6 15.5,0 Q3.6,3.6 0,15.5 Q-3.6,3.6 -15.5,0 Q-3.6,-3.6 0,-15.5Z" fill="#2a7cc6" opacity="0.90"/>
<rect x="-4.8" y="-4.8" width="9.6" height="9.6" rx="3" fill="#2244c0" opacity="0.85"/>
</g>
<g transform="translate(683.80,201.60)">
<path d="M0,-15.5 Q3.6,-3.6 15.5,0 Q3.6,3.6 0,15.5 Q-3.6,3.6 -15.5,0 Q-3.6,-3.6 0,-15.5Z" fill="#2a7cc6" opacity="0.90"/>
<rect x="-4.8" y="-4.8" width="9.6" height="9.6" rx="3" fill="#2244c0" opacity="0.85"/>
</g>
</g>
<g>
<circle cx="513.34" cy="31.41" r="15.4" fill="url(#bdiag)"/>
<circle cx="513.34" cy="31.41" r="15.4" fill="url(#bshade)" opacity="0.25"/>
<circle cx="551.22" cy="31.41" r="15.4" fill="url(#btop)"/>
<circle cx="551.22" cy="31.41" r="15.4" fill="url(#bshade)" opacity="0.25"/>
<circle cx="589.10" cy="31.41" r="15.4" fill="url(#btop)"/>
<circle cx="589.10" cy="31.41" r="15.4" fill="url(#bshade)" opacity="0.25"/>
<circle cx="626.98" cy="31.41" r="15.4" fill="url(#btop)"/>
<circle cx="626.98" cy="31.41" r="15.4" fill="url(#bshade)" opacity="0.25"/>
<circle cx="664.86" cy="31.41" r="15.4" fill="url(#btop)"/>
<circle cx="664.86" cy="31.41" r="15.4" fill="url(#bshade)" opacity="0.25"/>
<circle cx="513.34" cy="69.23" r="15.4" fill="url(#bleft)"/>
<circle cx="513.34" cy="69.23" r="15.4" fill="url(#bshade)" opacity="0.25"/>
<g clip-path="url(#cc11)">
<circle cx="551.22" cy="69.23" r="15.4" fill="#2858c8"/>
<circle cx="546.03" cy="64.53" r="13.90" fill="#2a88c4"/>
<ellipse cx="555.28" cy="75.97" rx="2.93" ry="1.71" transform="rotate(141 555.28 75.97)" fill="#2858c8" opacity="0.8"/>
<ellipse cx="559.66" cy="63.38" rx="3.26" ry="1.99" transform="rotate(85 559.66 63.38)" fill="#2858c8" opacity="0.8"/>
<ellipse cx="556.58" cy="71.70" rx="3.08" ry="2.09" transform="rotate(124 556.58 71.70)" fill="#2858c8" opacity="0.8"/>
<ellipse cx="553.45" cy="75.68" rx="2.91" ry="1.94" transform="rotate(146 553.45 75.68)" fill="#2858c8" opacity="0.8"/>
</g>
<circle cx="551.22" cy="69.23" r="15.4" fill="url(#bshade)" opacity="1"/>
<g clip-path="url(#cc21)">
<circle cx="589.10" cy="69.23" r="15.4" fill="#275dc7"/>
<circle cx="585.29" cy="64.28" r="13.90" fill="#298bc3"/>
<ellipse cx="582.72" cy="76.57" rx="2.07" ry="2.08" transform="rotate(192 582.72 76.57)" fill="#275dc7" opacity="0.8"/>
<ellipse cx="584.41" cy="77.47" rx="3.18" ry="1.40" transform="rotate(184 584.41 77.47)" fill="#275dc7" opacity="0.8"/>
<ellipse cx="589.21" cy="77.35" rx="3.32" ry="1.66" transform="rotate(163 589.21 77.35)" fill="#298bc3" opacity="0.8"/>
<ellipse cx="596.07" cy="72.86" rx="3.86" ry="1.28" transform="rotate(129 596.07 72.86)" fill="#298bc3" opacity="0.8"/>
</g>
<circle cx="589.10" cy="69.23" r="15.4" fill="url(#bshade)" opacity="1"/>
<g clip-path="url(#cc31)">
<circle cx="626.98" cy="69.23" r="15.4" fill="#2761c5"/>
<circle cx="622.42" cy="66.16" r="13.90" fill="#298dc1"/>
<ellipse cx="635.46" cy="64.71" rx="2.14" ry="1.97" transform="rotate(84 635.46 64.71)" fill="#298dc1" opacity="0.8"/>
<ellipse cx="634.36" cy="60.72" rx="2.13" ry="1.22" transform="rotate(65 634.36 60.72)" fill="#2761c5" opacity="0.8"/>
<ellipse cx="636.96" cy="63.92" rx="2.10" ry="1.58" transform="rotate(81 636.96 63.92)" fill="#298dc1" opacity="0.8"/>
<ellipse cx="635.23" cy="71.33" rx="2.40" ry="1.87" transform="rotate(112 635.23 71.33)" fill="#298dc1" opacity="0.8"/>
</g>
<circle cx="626.98" cy="69.23" r="15.4" fill="url(#bshade)" opacity="1"/>
<g clip-path="url(#cc41)">
<circle cx="664.86" cy="69.23" r="15.4" fill="#2666c4"/>
<circle cx="660.40" cy="67.59" r="13.90" fill="#2890c0"/>
<ellipse cx="675.16" cy="66.37" rx="3.52" ry="1.32" transform="rotate(85 675.16 66.37)" fill="#2666c4" opacity="0.8"/>
<ellipse cx="668.21" cy="77.25" rx="2.93" ry="1.69" transform="rotate(141 668.21 77.25)" fill="#2666c4" opacity="0.8"/>
<ellipse cx="672.98" cy="70.35" rx="3.46" ry="1.33" transform="rotate(102 672.98 70.35)" fill="#2890c0" opacity="0.8"/>
<ellipse cx="671.16" cy="59.51" rx="2.43" ry="1.47" transform="rotate(53 671.16 59.51)" fill="#2890c0" opacity="0.8"/>
</g>
<circle cx="664.86" cy="69.23" r="15.4" fill="url(#bshade)" opacity="1"/>
<circle cx="513.34" cy="107.05" r="15.4" fill="url(#bleft)"/>
<circle cx="513.34" cy="107.05" r="15.4" fill="url(#bshade)" opacity="0.25"/>
<g clip-path="url(#cc12)">
<circle cx="551.22" cy="107.05" r="15.4" fill="#275dc7"/>
<circle cx="546.91" cy="104.05" r="13.90" fill="#298bc3"/>
<ellipse cx="557.23" cy="96.36" rx="3.99" ry="1.80" transform="rotate(53 557.23 96.36)" fill="#275dc7" opacity="0.8"/>
<ellipse cx="557.58" cy="97.03" rx="2.88" ry="1.21" transform="rotate(57 557.58 97.03)" fill="#298bc3" opacity="0.8"/>
<ellipse cx="548.29" cy="117.34" rx="2.15" ry="1.41" transform="rotate(174 548.29 117.34)" fill="#275dc7" opacity="0.8"/>
<ellipse cx="557.51" cy="95.98" rx="3.24" ry="1.33" transform="rotate(53 557.51 95.98)" fill="#298bc3" opacity="0.8"/>
</g>
<circle cx="551.22" cy="107.05" r="15.4" fill="url(#bshade)" opacity="1"/>
<g clip-path="url(#cc22)">
<circle cx="589.10" cy="107.05" r="15.4" fill="#2761c5"/>
<circle cx="585.02" cy="105.15" r="13.90" fill="#298dc1"/>
<ellipse cx="596.67" cy="98.61" rx="3.25" ry="1.51" transform="rotate(61 596.67 98.61)" fill="#2761c5" opacity="0.8"/>
<ellipse cx="588.98" cy="117.56" rx="2.38" ry="1.94" transform="rotate(162 588.98 117.56)" fill="#2761c5" opacity="0.8"/>
<ellipse cx="593.10" cy="115.80" rx="2.97" ry="1.28" transform="rotate(143 593.10 115.80)" fill="#2761c5" opacity="0.8"/>
<ellipse cx="595.37" cy="98.15" rx="3.93" ry="1.44" transform="rotate(56 595.37 98.15)" fill="#298dc1" opacity="0.8"/>
</g>
<circle cx="589.10" cy="107.05" r="15.4" fill="url(#bshade)" opacity="1"/>
<g clip-path="url(#cc32)">
<circle cx="626.98" cy="107.05" r="15.4" fill="#2666c4"/>
<circle cx="623.28" cy="107.67" r="13.90" fill="#2890c0"/>
<ellipse cx="634.13" cy="116.35" rx="2.59" ry="1.38" transform="rotate(129 634.13 116.35)" fill="#2666c4" opacity="0.8"/>
<ellipse cx="628.98" cy="95.33" rx="3.31" ry="1.82" transform="rotate(25 628.98 95.33)" fill="#2666c4" opacity="0.8"/>
<ellipse cx="634.15" cy="97.78" rx="2.41" ry="1.22" transform="rotate(48 634.15 97.78)" fill="#2890c0" opacity="0.8"/>
<ellipse cx="635.29" cy="102.63" rx="2.09" ry="1.48" transform="rotate(67 635.29 102.63)" fill="#2666c4" opacity="0.8"/>
</g>
<circle cx="626.98" cy="107.05" r="15.4" fill="url(#bshade)" opacity="1"/>
<g clip-path="url(#cc42)">
<circle cx="664.86" cy="107.05" r="15.4" fill="#256bc3"/>
<circle cx="662.03" cy="108.05" r="13.90" fill="#2793bf"/>
<ellipse cx="665.91" cy="95.09" rx="2.66" ry="1.93" transform="rotate(17 665.91 95.09)" fill="#256bc3" opacity="0.8"/>
<ellipse cx="676.66" cy="106.49" rx="2.95" ry="1.56" transform="rotate(84 676.66 106.49)" fill="#2793bf" opacity="0.8"/>
<ellipse cx="670.12" cy="117.52" rx="3.27" ry="1.68" transform="rotate(139 670.12 117.52)" fill="#2793bf" opacity="0.8"/>
<ellipse cx="672.30" cy="97.25" rx="2.15" ry="1.75" transform="rotate(44 672.30 97.25)" fill="#256bc3" opacity="0.8"/>
</g>
<circle cx="664.86" cy="107.05" r="15.4" fill="url(#bshade)" opacity="1"/>
<circle cx="513.34" cy="144.87" r="15.4" fill="url(#bleft)"/>
<circle cx="513.34" cy="144.87" r="15.4" fill="url(#bshade)" opacity="0.25"/>
<g clip-path="url(#cc13)">
<circle cx="551.22" cy="144.87" r="15.4" fill="#2761c5"/>
<circle cx="547.28" cy="142.69" r="13.90" fill="#298dc1"/>
<ellipse cx="553.42" cy="155.45" rx="3.59" ry="2.12" transform="rotate(154 553.42 155.45)" fill="#298dc1" opacity="0.8"/>
<ellipse cx="558.70" cy="135.33" rx="2.16" ry="2.06" transform="rotate(57 558.70 135.33)" fill="#2761c5" opacity="0.8"/>
<ellipse cx="548.93" cy="156.42" rx="3.25" ry="1.58" transform="rotate(173 548.93 156.42)" fill="#2761c5" opacity="0.8"/>
<ellipse cx="556.16" cy="151.63" rx="3.28" ry="2.19" transform="rotate(135 556.16 151.63)" fill="#298dc1" opacity="0.8"/>
</g>
<circle cx="551.22" cy="144.87" r="15.4" fill="url(#bshade)" opacity="1"/>
<g clip-path="url(#cc23)">
<circle cx="589.10" cy="144.87" r="15.4" fill="#2666c4"/>
<circle cx="585.55" cy="143.67" r="13.90" fill="#2890c0"/>
<ellipse cx="599.78" cy="144.18" rx="3.16" ry="1.64" transform="rotate(92 599.78 144.18)" fill="#2666c4" opacity="0.8"/>
<ellipse cx="598.28" cy="148.68" rx="2.62" ry="1.29" transform="rotate(111 598.28 148.68)" fill="#2666c4" opacity="0.8"/>
<ellipse cx="598.71" cy="138.48" rx="2.99" ry="1.81" transform="rotate(69 598.71 138.48)" fill="#2890c0" opacity="0.8"/>
<ellipse cx="597.39" cy="139.89" rx="2.60" ry="1.88" transform="rotate(72 597.39 139.89)" fill="#2666c4" opacity="0.8"/>
</g>
<circle cx="589.10" cy="144.87" r="15.4" fill="url(#bshade)" opacity="1"/>
<g clip-path="url(#cc33)">
<circle cx="626.98" cy="144.87" r="15.4" fill="#256bc3"/>
<circle cx="624.00" cy="144.55" r="13.90" fill="#2793bf"/>
<ellipse cx="633.55" cy="153.74" rx="3.86" ry="1.70" transform="rotate(134 633.55 153.74)" fill="#256bc3" opacity="0.8"/>
<ellipse cx="637.24" cy="139.82" rx="2.40" ry="1.63" transform="rotate(70 637.24 139.82)" fill="#256bc3" opacity="0.8"/>
<ellipse cx="630.11" cy="156.43" rx="3.17" ry="1.52" transform="rotate(153 630.11 156.43)" fill="#256bc3" opacity="0.8"/>
<ellipse cx="632.82" cy="134.63" rx="3.79" ry="1.24" transform="rotate(42 632.82 134.63)" fill="#256bc3" opacity="0.8"/>
</g>
<circle cx="626.98" cy="144.87" r="15.4" fill="url(#bshade)" opacity="1"/>
<g clip-path="url(#cc43)">
<circle cx="664.86" cy="144.87" r="15.4" fill="#256fc1"/>
<circle cx="662.95" cy="143.68" r="13.90" fill="#2795bd"/>
<ellipse cx="675.77" cy="143.40" rx="2.90" ry="1.48" transform="rotate(89 675.77 143.40)" fill="#256fc1" opacity="0.8"/>
<ellipse cx="664.97" cy="156.88" rx="3.04" ry="1.87" transform="rotate(171 664.97 156.88)" fill="#2795bd" opacity="0.8"/>
<ellipse cx="677.36" cy="145.00" rx="2.56" ry="1.81" transform="rotate(95 677.36 145.00)" fill="#2795bd" opacity="0.8"/>
<ellipse cx="672.66" cy="152.58" rx="3.58" ry="1.22" transform="rotate(133 672.66 152.58)" fill="#256fc1" opacity="0.8"/>
</g>
<circle cx="664.86" cy="144.87" r="15.4" fill="url(#bshade)" opacity="1"/>
<circle cx="513.34" cy="182.69" r="15.4" fill="url(#bleft)"/>
<circle cx="513.34" cy="182.69" r="15.4" fill="url(#bshade)" opacity="0.25"/>
<g clip-path="url(#cc14)">
<circle cx="551.22" cy="182.69" r="15.4" fill="#2666c4"/>
<circle cx="547.47" cy="182.74" r="13.90" fill="#2890c0"/>
<ellipse cx="557.26" cy="172.28" rx="2.53" ry="1.98" transform="rotate(43 557.26 172.28)" fill="#2666c4" opacity="0.8"/>
<ellipse cx="551.51" cy="194.76" rx="2.22" ry="1.74" transform="rotate(161 551.51 194.76)" fill="#2890c0" opacity="0.8"/>
<ellipse cx="552.85" cy="195.78" rx="2.40" ry="1.68" transform="rotate(158 552.85 195.78)" fill="#2666c4" opacity="0.8"/>
<ellipse cx="559.69" cy="190.14" rx="3.07" ry="1.24" transform="rotate(121 559.69 190.14)" fill="#2666c4" opacity="0.8"/>
</g>
<circle cx="551.22" cy="182.69" r="15.4" fill="url(#bshade)" opacity="1"/>
<g clip-path="url(#cc24)">
<circle cx="589.10" cy="182.69" r="15.4" fill="#256bc3"/>
<circle cx="586.13" cy="183.14" r="13.90" fill="#2793bf"/>
<ellipse cx="598.18" cy="175.72" rx="3.04" ry="1.81" transform="rotate(58 598.18 175.72)" fill="#256bc3" opacity="0.8"/>
<ellipse cx="599.22" cy="177.17" rx="3.81" ry="1.29" transform="rotate(65 599.22 177.17)" fill="#2793bf" opacity="0.8"/>
<ellipse cx="592.11" cy="171.00" rx="3.25" ry="2.11" transform="rotate(26 592.11 171.00)" fill="#2793bf" opacity="0.8"/>
<ellipse cx="600.16" cy="182.85" rx="3.01" ry="2.02" transform="rotate(89 600.16 182.85)" fill="#2793bf" opacity="0.8"/>
</g>
<circle cx="589.10" cy="182.69" r="15.4" fill="url(#bshade)" opacity="1"/>
<g clip-path="url(#cc34)">
<circle cx="626.98" cy="182.69" r="15.4" fill="#256fc1"/>
<circle cx="624.73" cy="182.58" r="13.90" fill="#2795bd"/>
<ellipse cx="636.40" cy="188.11" rx="3.44" ry="2.02" transform="rotate(115 636.40 188.11)" fill="#256fc1" opacity="0.8"/>
<ellipse cx="635.97" cy="173.18" rx="3.96" ry="2.18" transform="rotate(50 635.97 173.18)" fill="#2795bd" opacity="0.8"/>
<ellipse cx="636.69" cy="174.92" rx="2.03" ry="1.70" transform="rotate(57 636.69 174.92)" fill="#256fc1" opacity="0.8"/>
<ellipse cx="638.43" cy="181.14" rx="3.54" ry="1.69" transform="rotate(84 638.43 181.14)" fill="#256fc1" opacity="0.8"/>
</g>
<circle cx="626.98" cy="182.69" r="15.4" fill="url(#bshade)" opacity="1"/>
<g clip-path="url(#cc44)">
<circle cx="664.86" cy="182.69" r="15.4" fill="#2474c0"/>
<circle cx="663.39" cy="183.00" r="13.90" fill="#2698bc"/>
<ellipse cx="673.27" cy="192.16" rx="2.07" ry="1.73" transform="rotate(133 673.27 192.16)" fill="#2474c0" opacity="0.8"/>
<ellipse cx="677.69" cy="178.82" rx="3.80" ry="1.72" transform="rotate(74 677.69 178.82)" fill="#2698bc" opacity="0.8"/>
<ellipse cx="671.31" cy="194.10" rx="3.90" ry="1.29" transform="rotate(145 671.31 194.10)" fill="#2474c0" opacity="0.8"/>
<ellipse cx="676.28" cy="178.07" rx="3.66" ry="1.76" transform="rotate(69 676.28 178.07)" fill="#2474c0" opacity="0.8"/>
</g>
<circle cx="664.86" cy="182.69" r="15.4" fill="url(#bshade)" opacity="1"/>
</g>
</g>
<text x="166.0" y="270.4" font-size="18.5" text-anchor="middle" letter-spacing="0.4" style="stroke-width:0.12px">(a)</text>
<text x="515.2" y="270.4" font-size="18.5" text-anchor="middle" letter-spacing="0.4" style="stroke-width:0.12px">(b)</text>
<text x="166.0" y="562.8" font-size="18.5" text-anchor="middle" letter-spacing="0.4" style="stroke-width:0.12px">(c)</text>
<text x="515.2" y="562.8" font-size="18.5" text-anchor="middle" letter-spacing="0.4" style="stroke-width:0.12px">(d)</text>
</svg></body></html>
